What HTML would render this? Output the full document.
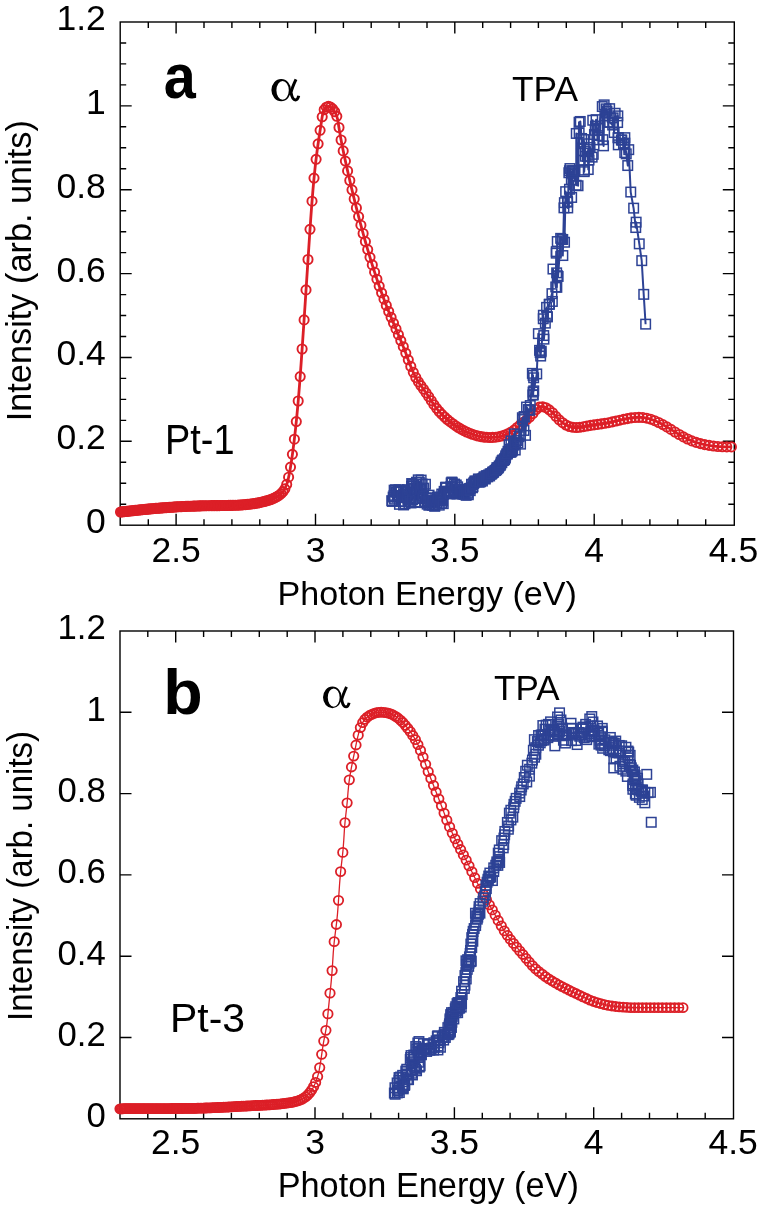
<!DOCTYPE html>
<html><head><meta charset="utf-8"><style>html,body{margin:0;padding:0;background:#fff;width:762px;height:1210px;overflow:hidden} svg{will-change:transform}</style></head>
<body><svg width="762" height="1210" viewBox="0 0 762 1210" style="display:block">
<rect width="762" height="1210" fill="#fff"/>
<rect x="120.2" y="22" width="614.1" height="503.2" fill="none" stroke="#000" stroke-width="1.4"/>
<path d="M148.3 525.2V519.2M148.3 22V28M176.1 525.2V513.7M176.1 22V33.5M204 525.2V519.2M204 22V28M231.9 525.2V519.2M231.9 22V28M259.8 525.2V519.2M259.8 22V28M287.6 525.2V519.2M287.6 22V28M315.5 525.2V513.7M315.5 22V33.5M343.4 525.2V519.2M343.4 22V28M371.2 525.2V519.2M371.2 22V28M399.1 525.2V519.2M399.1 22V28M427 525.2V519.2M427 22V28M454.8 525.2V513.7M454.8 22V33.5M482.7 525.2V519.2M482.7 22V28M510.6 525.2V519.2M510.6 22V28M538.4 525.2V519.2M538.4 22V28M566.3 525.2V519.2M566.3 22V28M594.2 525.2V513.7M594.2 22V33.5M622.1 525.2V519.2M622.1 22V28M649.9 525.2V519.2M649.9 22V28M677.8 525.2V519.2M677.8 22V28M705.7 525.2V519.2M705.7 22V28M120.2 504.2H126.2M734.3 504.2H728.3M120.2 483.3H126.2M734.3 483.3H728.3M120.2 462.3H126.2M734.3 462.3H728.3M120.2 441.3H131.7M734.3 441.3H722.8M120.2 420.4H126.2M734.3 420.4H728.3M120.2 399.4H126.2M734.3 399.4H728.3M120.2 378.4H126.2M734.3 378.4H728.3M120.2 357.5H131.7M734.3 357.5H722.8M120.2 336.5H126.2M734.3 336.5H728.3M120.2 315.5H126.2M734.3 315.5H728.3M120.2 294.6H126.2M734.3 294.6H728.3M120.2 273.6H131.7M734.3 273.6H722.8M120.2 252.6H126.2M734.3 252.6H728.3M120.2 231.7H126.2M734.3 231.7H728.3M120.2 210.7H126.2M734.3 210.7H728.3M120.2 189.7H131.7M734.3 189.7H722.8M120.2 168.8H126.2M734.3 168.8H728.3M120.2 147.8H126.2M734.3 147.8H728.3M120.2 126.8H126.2M734.3 126.8H728.3M120.2 105.9H131.7M734.3 105.9H722.8M120.2 84.9H126.2M734.3 84.9H728.3M120.2 63.9H126.2M734.3 63.9H728.3M120.2 43H126.2M734.3 43H728.3" stroke="#000" stroke-width="1.4" fill="none"/>
<g font-family="Liberation Sans, sans-serif" font-size="35.5" fill="#000"><text x="105.8" y="533.1" text-anchor="end" font-size="35.5">0</text><text x="105.8" y="449.2" text-anchor="end" font-size="35.5">0.2</text><text x="105.8" y="365.4" text-anchor="end" font-size="35.5">0.4</text><text x="105.8" y="281.5" text-anchor="end" font-size="35.5">0.6</text><text x="105.8" y="197.6" text-anchor="end" font-size="35.5">0.8</text><text x="105.8" y="113.8" text-anchor="end" font-size="35.5">1</text><text x="105.8" y="29.9" text-anchor="end" font-size="35.5">1.2</text><text x="176.1" y="562" text-anchor="middle">2.5</text><text x="315.5" y="562" text-anchor="middle">3</text><text x="454.8" y="562" text-anchor="middle">3.5</text><text x="594.2" y="562" text-anchor="middle">4</text><text x="733.5" y="562" text-anchor="middle">4.5</text></g>
<path d="M120.5 512 L121.2 511.9 L121.9 511.9 L122.6 511.8 L123.3 511.7 L124 511.6 L124.7 511.6 L125.4 511.5 L126.1 511.4 L126.8 511.3 L127.5 511.2 L128.2 511.2 L128.9 511.1 L129.6 511 L130.3 510.9 L131 510.9 L131.7 510.8 L132.4 510.7 L133.1 510.6 L133.8 510.6 L134.5 510.5 L135.2 510.4 L135.9 510.3 L136.6 510.3 L137.3 510.2 L138 510.1 L138.7 510.1 L139.4 510 L140.1 509.9 L140.8 509.8 L141.5 509.8 L142.2 509.7 L142.9 509.6 L143.6 509.6 L144.3 509.5 L145 509.4 L145.7 509.3 L146.4 509.3 L147.1 509.2 L147.8 509.1 L148.5 509.1 L149.2 509 L149.9 508.9 L150.6 508.9 L151.3 508.8 L152 508.7 L152.7 508.7 L153.4 508.6 L154.1 508.6 L154.8 508.5 L155.5 508.4 L156.2 508.4 L156.9 508.3 L157.6 508.3 L158.3 508.2 L159 508.1 L159.7 508.1 L160.4 508 L161.1 508 L161.8 507.9 L162.5 507.8 L163.2 507.8 L163.9 507.7 L164.6 507.7 L165.3 507.6 L166 507.6 L166.7 507.5 L167.4 507.5 L168.1 507.4 L168.8 507.4 L169.5 507.3 L170.2 507.3 L170.9 507.2 L171.6 507.2 L172.3 507.1 L173 507.1 L173.7 507 L174.4 507 L175.1 507 L175.8 506.9 L176.5 506.9 L177.2 506.8 L177.9 506.8 L178.6 506.8 L179.3 506.7 L180 506.7 L180.7 506.7 L181.4 506.6 L182.1 506.6 L182.8 506.5 L183.5 506.5 L184.2 506.5 L184.9 506.4 L185.6 506.4 L186.3 506.4 L187 506.4 L187.7 506.3 L188.4 506.3 L189.1 506.3 L189.8 506.2 L190.5 506.2 L191.2 506.2 L191.9 506.2 L192.6 506.1 L193.3 506.1 L194 506.1 L194.7 506.1 L195.4 506 L196.1 506 L196.8 506 L197.5 506 L198.2 505.9 L198.9 505.9 L199.6 505.9 L200.3 505.9 L201 505.9 L201.7 505.8 L202.4 505.8 L203.1 505.8 L203.8 505.8 L204.5 505.8 L205.2 505.8 L205.9 505.8 L206.6 505.7 L207.3 505.7 L208 505.7 L208.7 505.7 L209.4 505.7 L210.1 505.7 L210.8 505.7 L211.5 505.6 L212.2 505.6 L212.9 505.6 L213.6 505.6 L214.3 505.6 L215 505.6 L215.7 505.6 L216.4 505.6 L217.1 505.6 L217.8 505.6 L218.5 505.6 L219.2 505.6 L219.9 505.5 L220.6 505.5 L221.3 505.5 L222 505.5 L222.7 505.5 L223.4 505.5 L224.1 505.5 L224.8 505.5 L225.5 505.5 L226.2 505.5 L226.9 505.5 L227.6 505.5 L228.3 505.4 L229 505.4 L229.7 505.4 L230.4 505.4 L231.1 505.4 L231.8 505.4 L232.5 505.3 L233.2 505.3 L233.9 505.3 L234.6 505.3 L235.3 505.2 L236 505.2 L236.7 505.2 L237.4 505.2 L238.1 505.1 L238.8 505.1 L239.5 505 L240.2 505 L240.9 505 L241.6 504.9 L242.3 504.9 L243 504.8 L243.7 504.8 L244.4 504.7 L245.1 504.6 L245.8 504.6 L246.5 504.5 L247.2 504.4 L247.9 504.4 L248.6 504.3 L249.3 504.2 L250 504.1 L250.7 504 L251.4 504 L252.1 503.9 L252.8 503.8 L253.5 503.7 L254.2 503.5 L254.9 503.4 L255.6 503.3 L256.3 503.2 L257 503.1 L257.7 502.9 L258.4 502.8 L259.1 502.7 L259.8 502.5 L260.5 502.4 L261.2 502.2 L261.9 502.1 L262.6 501.9 L263.3 501.7 L264 501.6 L264.7 501.4 L265.4 501.2 L266.1 501 L266.8 500.8 L267.5 500.6 L268.2 500.4 L268.9 500.2 L269.6 499.9 L270.3 499.7 L271 499.4 L271.7 499.2 L272.4 498.9 L273.1 498.6 L273.8 498.3 L274.5 498 L275.2 497.6 L275.9 497.3 L276.6 496.9 L277.3 496.5 L278 496 L278.7 495.6 L279.4 495.1 L280.1 494.5 L280.8 493.9 L281.5 493.3 L282.2 492.5 L282.9 491.7 L283.6 490.8 L284.3 489.7 L285 488.5 L285.7 487 L286.4 485.3 L287.1 483.2 L287.8 480.7 L288.5 477.7 L289.2 474.4 L289.9 470.7 L290.6 466.6 L291.3 462.2 L292 457.4 L292.7 452.3 L293.4 446.9 L294.1 441.3 L294.8 435.3 L295.5 429.1 L296.2 422.4 L296.9 415.4 L297.6 407.9 L298.3 400 L299 391.6 L299.7 382.7 L300.4 373.3 L301.1 363.6 L301.8 353.6 L302.5 343.4 L303.2 333 L303.9 322.6 L304.6 312 L305.3 301.3 L306 290.6 L306.7 279.9 L307.4 269.1 L308.1 258.4 L308.8 247.7 L309.5 237.1 L310.2 226.6 L310.9 216.5 L311.6 206.8 L312.3 197.8 L313 189.4 L313.7 181.6 L314.4 174.4 L315.1 167.7 L315.8 161.5 L316.5 155.7 L317.2 150.3 L317.9 145.2 L318.6 140.3 L319.3 135.7 L320 131.1 L320.7 126.6 L321.4 122 L322.1 117.3 L322.8 113.4 L323.5 111.2 L324.2 109.7 L324.9 108.6 L325.6 107.8 L326.3 107.2 L327 106.7 L327.7 106.5 L328.4 106.4 L329.1 106.5 L329.8 106.7 L330.5 107.1 L331.2 107.6 L331.9 108.2 L332.6 108.9 L333.3 109.7 L334 110.6 L334.7 111.7 L335.4 112.9 L336.1 114.4 L336.8 116.3 L337.5 118.8 L338.2 122.5 L338.9 127.2 L339.6 131.6 L340.3 135.7 L341 139.5 L341.7 143.2 L342.4 146.8 L343.1 150.2 L343.8 153.6 L344.5 156.8 L345.2 160.1 L345.9 163.3 L346.6 166.4 L347.3 169.6 L348 172.7 L348.7 175.8 L349.4 178.8 L350.1 181.9 L350.8 184.9 L351.5 187.8 L352.2 190.8 L352.9 193.7 L353.6 196.6 L354.3 199.4 L355 202.3 L355.7 205.1 L356.4 207.9 L357.1 210.7 L357.8 213.4 L358.5 216.1 L359.2 218.8 L359.9 221.5 L360.6 224.1 L361.3 226.7 L362 229.3 L362.7 231.9 L363.4 234.5 L364.1 237 L364.8 239.5 L365.5 242 L366.2 244.5 L366.9 246.9 L367.6 249.3 L368.3 251.7 L369 254.1 L369.7 256.4 L370.4 258.8 L371.1 261.1 L371.8 263.3 L372.5 265.6 L373.2 267.8 L373.9 270 L374.6 272.2 L375.3 274.4 L376 276.5 L376.7 278.6 L377.4 280.7 L378.1 282.8 L378.8 284.8 L379.5 286.8 L380.2 288.8 L380.9 290.8 L381.6 292.8 L382.3 294.7 L383 296.6 L383.7 298.5 L384.4 300.4 L385.1 302.2 L385.8 304.1 L386.5 305.9 L387.2 307.7 L387.9 309.4 L388.6 311.2 L389.3 312.9 L390 314.6 L390.7 316.3 L391.4 318 L392.1 319.7 L392.8 321.4 L393.5 323.1 L394.2 324.7 L394.9 326.4 L395.6 328.1 L396.3 329.7 L397 331.4 L397.7 333.1 L398.4 334.7 L399.1 336.4 L399.8 338.1 L400.5 339.8 L401.2 341.5 L401.9 343.2 L402.6 345 L403.3 346.7 L404 348.5 L404.7 350.3 L405.4 352.1 L406.1 354 L406.8 355.9 L407.5 357.8 L408.2 359.7 L408.9 361.5 L409.6 363.4 L410.3 365.2 L411 367 L411.7 368.7 L412.4 370.3 L413.1 371.9 L413.8 373.4 L414.5 374.9 L415.2 376.3 L415.9 377.6 L416.6 378.9 L417.3 380.1 L418 381.2 L418.7 382.3 L419.4 383.4 L420.1 384.5 L420.8 385.5 L421.5 386.5 L422.2 387.4 L422.9 388.4 L423.6 389.4 L424.3 390.4 L425 391.3 L425.7 392.3 L426.4 393.3 L427.1 394.3 L427.8 395.4 L428.5 396.4 L429.2 397.5 L429.9 398.6 L430.6 399.7 L431.3 400.7 L432 401.8 L432.7 402.9 L433.4 403.9 L434.1 404.9 L434.8 405.9 L435.5 406.9 L436.2 407.8 L436.9 408.7 L437.6 409.6 L438.3 410.4 L439 411.3 L439.7 412.1 L440.4 412.8 L441.1 413.6 L441.8 414.3 L442.5 415 L443.2 415.7 L443.9 416.4 L444.6 417.1 L445.3 417.7 L446 418.3 L446.7 418.9 L447.4 419.5 L448.1 420.1 L448.8 420.7 L449.5 421.3 L450.2 421.8 L450.9 422.4 L451.6 422.9 L452.3 423.4 L453 423.9 L453.7 424.4 L454.4 424.9 L455.1 425.4 L455.8 425.9 L456.5 426.3 L457.2 426.8 L457.9 427.2 L458.6 427.7 L459.3 428.1 L460 428.5 L460.7 428.9 L461.4 429.3 L462.1 429.7 L462.8 430.1 L463.5 430.5 L464.2 430.8 L464.9 431.2 L465.6 431.5 L466.3 431.9 L467 432.2 L467.7 432.5 L468.4 432.8 L469.1 433.1 L469.8 433.4 L470.5 433.6 L471.2 433.9 L471.9 434.2 L472.6 434.4 L473.3 434.6 L474 434.9 L474.7 435.1 L475.4 435.3 L476.1 435.5 L476.8 435.7 L477.5 435.9 L478.2 436 L478.9 436.2 L479.6 436.3 L480.3 436.5 L481 436.6 L481.7 436.7 L482.4 436.8 L483.1 437 L483.8 437 L484.5 437.1 L485.2 437.2 L485.9 437.3 L486.6 437.3 L487.3 437.4 L488 437.4 L488.7 437.4 L489.4 437.5 L490.1 437.5 L490.8 437.5 L491.5 437.5 L492.2 437.4 L492.9 437.4 L493.6 437.4 L494.3 437.3 L495 437.2 L495.7 437.2 L496.4 437.1 L497.1 437 L497.8 436.9 L498.5 436.7 L499.2 436.6 L499.9 436.5 L500.6 436.3 L501.3 436.1 L502 435.9 L502.7 435.7 L503.4 435.5 L504.1 435.3 L504.8 435 L505.5 434.8 L506.2 434.5 L506.9 434.2 L507.6 433.9 L508.3 433.6 L509 433.2 L509.7 432.8 L510.4 432.4 L511.1 432 L511.8 431.6 L512.5 431.1 L513.2 430.6 L513.9 430.1 L514.6 429.6 L515.3 429 L516 428.4 L516.7 427.8 L517.4 427.2 L518.1 426.6 L518.8 426 L519.5 425.4 L520.2 424.8 L520.9 424.2 L521.6 423.6 L522.3 423 L523 422.4 L523.7 421.9 L524.4 421.4 L525.1 420.8 L525.8 420.3 L526.5 419.7 L527.2 419.2 L527.9 418.6 L528.6 418 L529.3 417.4 L530 416.8 L530.7 416.1 L531.4 415.4 L532.1 414.6 L532.8 413.7 L533.5 412.8 L534.2 411.9 L534.9 411 L535.6 410.1 L536.3 409.3 L537 408.6 L537.7 408 L538.4 407.5 L539.1 407.2 L539.8 406.9 L540.5 406.7 L541.2 406.7 L541.9 406.7 L542.6 406.7 L543.3 406.8 L544 407 L544.7 407.2 L545.4 407.5 L546.1 407.8 L546.8 408.2 L547.5 408.6 L548.2 409 L548.9 409.5 L549.6 410.1 L550.3 410.7 L551 411.3 L551.7 411.9 L552.4 412.6 L553.1 413.3 L553.8 414.1 L554.5 414.8 L555.2 415.6 L555.9 416.3 L556.6 417.1 L557.3 417.8 L558 418.5 L558.7 419.3 L559.4 419.9 L560.1 420.6 L560.8 421.2 L561.5 421.8 L562.2 422.4 L562.9 422.9 L563.6 423.5 L564.3 423.9 L565 424.4 L565.7 424.8 L566.4 425.2 L567.1 425.5 L567.8 425.8 L568.5 426.1 L569.2 426.4 L569.9 426.6 L570.6 426.8 L571.3 427 L572 427.2 L572.7 427.3 L573.4 427.4 L574.1 427.5 L574.8 427.5 L575.5 427.5 L576.2 427.6 L576.9 427.5 L577.6 427.5 L578.3 427.4 L579 427.4 L579.7 427.3 L580.4 427.2 L581.1 427.1 L581.8 427 L582.5 426.9 L583.2 426.7 L583.9 426.6 L584.6 426.5 L585.3 426.3 L586 426.2 L586.7 426.1 L587.4 425.9 L588.1 425.8 L588.8 425.7 L589.5 425.6 L590.2 425.5 L590.9 425.4 L591.6 425.3 L592.3 425.1 L593 425 L593.7 424.9 L594.4 424.9 L595.1 424.8 L595.8 424.7 L596.5 424.6 L597.2 424.5 L597.9 424.4 L598.6 424.3 L599.3 424.2 L600 424.1 L600.7 424 L601.4 423.9 L602.1 423.8 L602.8 423.7 L603.5 423.6 L604.2 423.5 L604.9 423.3 L605.6 423.2 L606.3 423.1 L607 423 L607.7 422.8 L608.4 422.7 L609.1 422.6 L609.8 422.4 L610.5 422.3 L611.2 422.1 L611.9 422 L612.6 421.8 L613.3 421.7 L614 421.5 L614.7 421.3 L615.4 421.2 L616.1 421 L616.8 420.9 L617.5 420.7 L618.2 420.5 L618.9 420.4 L619.6 420.2 L620.3 420 L621 419.9 L621.7 419.7 L622.4 419.6 L623.1 419.4 L623.8 419.3 L624.5 419.1 L625.2 419 L625.9 418.8 L626.6 418.7 L627.3 418.6 L628 418.4 L628.7 418.3 L629.4 418.2 L630.1 418.1 L630.8 418 L631.5 417.9 L632.2 417.8 L632.9 417.7 L633.6 417.6 L634.3 417.6 L635 417.5 L635.7 417.5 L636.4 417.4 L637.1 417.4 L637.8 417.4 L638.5 417.4 L639.2 417.4 L639.9 417.4 L640.6 417.4 L641.3 417.4 L642 417.5 L642.7 417.5 L643.4 417.6 L644.1 417.7 L644.8 417.8 L645.5 417.9 L646.2 418 L646.9 418.2 L647.6 418.3 L648.3 418.5 L649 418.7 L649.7 418.9 L650.4 419.1 L651.1 419.3 L651.8 419.6 L652.5 419.8 L653.2 420.1 L653.9 420.3 L654.6 420.6 L655.3 420.9 L656 421.2 L656.7 421.5 L657.4 421.8 L658.1 422.2 L658.8 422.5 L659.5 422.9 L660.2 423.2 L660.9 423.6 L661.6 423.9 L662.3 424.3 L663 424.7 L663.7 425.1 L664.4 425.5 L665.1 425.9 L665.8 426.3 L666.5 426.7 L667.2 427.1 L667.9 427.6 L668.6 428 L669.3 428.4 L670 428.8 L670.7 429.3 L671.4 429.7 L672.1 430.1 L672.8 430.6 L673.5 431 L674.2 431.5 L674.9 431.9 L675.6 432.3 L676.3 432.7 L677 433.2 L677.7 433.6 L678.4 434 L679.1 434.4 L679.8 434.9 L680.5 435.3 L681.2 435.7 L681.9 436.1 L682.6 436.5 L683.3 436.8 L684 437.2 L684.7 437.6 L685.4 437.9 L686.1 438.3 L686.8 438.6 L687.5 439 L688.2 439.3 L688.9 439.6 L689.6 439.9 L690.3 440.2 L691 440.5 L691.7 440.8 L692.4 441.1 L693.1 441.3 L693.8 441.6 L694.5 441.8 L695.2 442.1 L695.9 442.3 L696.6 442.5 L697.3 442.8 L698 443 L698.7 443.2 L699.4 443.4 L700.1 443.6 L700.8 443.7 L701.5 443.9 L702.2 444.1 L702.9 444.2 L703.6 444.4 L704.3 444.5 L705 444.7 L705.7 444.8 L706.4 445 L707.1 445.1 L707.8 445.2 L708.5 445.3 L709.2 445.5 L709.9 445.6 L710.6 445.7 L711.3 445.8 L712 445.9 L712.7 445.9 L713.4 446 L714.1 446.1 L714.8 446.2 L715.5 446.3 L716.2 446.3 L716.9 446.4 L717.6 446.5 L718.3 446.5 L719 446.6 L719.7 446.6 L720.4 446.7 L721.1 446.7 L721.8 446.7 L722.5 446.8 L723.2 446.8 L723.9 446.8 L724.6 446.9 L725.3 446.9 L726 446.9 L726.7 446.9 L727.4 446.9 L728.1 446.9 L728.8 446.9 L729.5 446.9 L730.2 446.9 L730.9 446.9 L731.6 446.9" fill="none" stroke="#dc1f27" stroke-width="2.8" stroke-linejoin="round"/>
<g fill="none" stroke="#dc1f27" stroke-width="1.9"><circle cx="120.5" cy="512" r="4.6"/><circle cx="121.7" cy="511.9" r="4.6"/><circle cx="122.9" cy="511.8" r="4.6"/><circle cx="124.1" cy="511.6" r="4.6"/><circle cx="125.3" cy="511.5" r="4.6"/><circle cx="126.5" cy="511.4" r="4.6"/><circle cx="127.7" cy="511.2" r="4.6"/><circle cx="128.9" cy="511.1" r="4.6"/><circle cx="130.1" cy="511" r="4.6"/><circle cx="131.4" cy="510.8" r="4.6"/><circle cx="132.6" cy="510.7" r="4.6"/><circle cx="133.8" cy="510.6" r="4.6"/><circle cx="135.1" cy="510.4" r="4.6"/><circle cx="136.3" cy="510.3" r="4.6"/><circle cx="137.6" cy="510.2" r="4.6"/><circle cx="138.8" cy="510" r="4.6"/><circle cx="140.1" cy="509.9" r="4.6"/><circle cx="141.4" cy="509.8" r="4.6"/><circle cx="142.6" cy="509.7" r="4.6"/><circle cx="143.9" cy="509.5" r="4.6"/><circle cx="145.2" cy="509.4" r="4.6"/><circle cx="146.5" cy="509.3" r="4.6"/><circle cx="147.8" cy="509.1" r="4.6"/><circle cx="149" cy="509" r="4.6"/><circle cx="150.3" cy="508.9" r="4.6"/><circle cx="151.7" cy="508.8" r="4.6"/><circle cx="153" cy="508.7" r="4.6"/><circle cx="154.3" cy="508.5" r="4.6"/><circle cx="155.6" cy="508.4" r="4.6"/><circle cx="156.9" cy="508.3" r="4.6"/><circle cx="158.3" cy="508.2" r="4.6"/><circle cx="159.6" cy="508.1" r="4.6"/><circle cx="160.9" cy="508" r="4.6"/><circle cx="162.3" cy="507.9" r="4.6"/><circle cx="163.6" cy="507.8" r="4.6"/><circle cx="165" cy="507.7" r="4.6"/><circle cx="166.4" cy="507.6" r="4.6"/><circle cx="167.7" cy="507.5" r="4.6"/><circle cx="169.1" cy="507.4" r="4.6"/><circle cx="170.5" cy="507.3" r="4.6"/><circle cx="171.9" cy="507.2" r="4.6"/><circle cx="173.3" cy="507.1" r="4.6"/><circle cx="174.6" cy="507" r="4.6"/><circle cx="176.1" cy="506.9" r="4.6"/><circle cx="177.5" cy="506.8" r="4.6"/><circle cx="178.9" cy="506.7" r="4.6"/><circle cx="180.3" cy="506.7" r="4.6"/><circle cx="181.7" cy="506.6" r="4.6"/><circle cx="183.1" cy="506.5" r="4.6"/><circle cx="184.6" cy="506.5" r="4.6"/><circle cx="186" cy="506.4" r="4.6"/><circle cx="187.5" cy="506.3" r="4.6"/><circle cx="188.9" cy="506.3" r="4.6"/><circle cx="190.4" cy="506.2" r="4.6"/><circle cx="191.9" cy="506.2" r="4.6"/><circle cx="193.3" cy="506.1" r="4.6"/><circle cx="194.8" cy="506.1" r="4.6"/><circle cx="196.3" cy="506" r="4.6"/><circle cx="197.8" cy="506" r="4.6"/><circle cx="199.3" cy="505.9" r="4.6"/><circle cx="200.8" cy="505.9" r="4.6"/><circle cx="202.3" cy="505.8" r="4.6"/><circle cx="203.8" cy="505.8" r="4.6"/><circle cx="205.3" cy="505.8" r="4.6"/><circle cx="206.8" cy="505.7" r="4.6"/><circle cx="208.4" cy="505.7" r="4.6"/><circle cx="209.9" cy="505.7" r="4.6"/><circle cx="211.5" cy="505.6" r="4.6"/><circle cx="213" cy="505.6" r="4.6"/><circle cx="214.6" cy="505.6" r="4.6"/><circle cx="216.2" cy="505.6" r="4.6"/><circle cx="217.7" cy="505.6" r="4.6"/><circle cx="219.3" cy="505.6" r="4.6"/><circle cx="220.9" cy="505.5" r="4.6"/><circle cx="222.5" cy="505.5" r="4.6"/><circle cx="224.1" cy="505.5" r="4.6"/><circle cx="225.7" cy="505.5" r="4.6"/><circle cx="227.3" cy="505.5" r="4.6"/><circle cx="228.9" cy="505.4" r="4.6"/><circle cx="230.6" cy="505.4" r="4.6"/><circle cx="232.2" cy="505.4" r="4.6"/><circle cx="233.9" cy="505.3" r="4.6"/><circle cx="235.5" cy="505.2" r="4.6"/><circle cx="237.2" cy="505.2" r="4.6"/><circle cx="238.8" cy="505.1" r="4.6"/><circle cx="240.5" cy="505" r="4.6"/><circle cx="242.2" cy="504.9" r="4.6"/><circle cx="243.9" cy="504.7" r="4.6"/><circle cx="245.6" cy="504.6" r="4.6"/><circle cx="247.3" cy="504.4" r="4.6"/><circle cx="249" cy="504.3" r="4.6"/><circle cx="250.7" cy="504" r="4.6"/><circle cx="252.4" cy="503.8" r="4.6"/><circle cx="254.2" cy="503.6" r="4.6"/><circle cx="255.9" cy="503.3" r="4.6"/><circle cx="257.6" cy="503" r="4.6"/><circle cx="259.4" cy="502.6" r="4.6"/><circle cx="261.2" cy="502.2" r="4.6"/><circle cx="262.9" cy="501.8" r="4.6"/><circle cx="264.7" cy="501.4" r="4.6"/><circle cx="266.5" cy="500.9" r="4.6"/><circle cx="268.3" cy="500.4" r="4.6"/><circle cx="270.1" cy="499.8" r="4.6"/><circle cx="271.9" cy="499.1" r="4.6"/><circle cx="273.7" cy="498.3" r="4.6"/><circle cx="275.6" cy="497.4" r="4.6"/><circle cx="277.4" cy="496.4" r="4.6"/><circle cx="279.3" cy="495.2" r="4.6"/><circle cx="281.1" cy="493.6" r="4.6"/><circle cx="283" cy="491.6" r="4.6"/><circle cx="284.9" cy="488.8" r="4.6"/><circle cx="286.7" cy="484.4" r="4.6"/><circle cx="288.6" cy="477.2" r="4.6"/><circle cx="290.5" cy="467.1" r="4.6"/><circle cx="292.4" cy="454.3" r="4.6"/><circle cx="294.4" cy="439.2" r="4.6"/><circle cx="296.3" cy="421.6" r="4.6"/><circle cx="298.2" cy="401" r="4.6"/><circle cx="300.2" cy="376.6" r="4.6"/><circle cx="302.1" cy="349" r="4.6"/><circle cx="304.1" cy="319.9" r="4.6"/><circle cx="306" cy="289.9" r="4.6"/><circle cx="308" cy="259.5" r="4.6"/><circle cx="310" cy="229.3" r="4.6"/><circle cx="312" cy="201.2" r="4.6"/><circle cx="314" cy="178.1" r="4.6"/><circle cx="316.1" cy="159.3" r="4.6"/><circle cx="318.1" cy="143.8" r="4.6"/><circle cx="320.1" cy="130.3" r="4.6"/><circle cx="322.2" cy="116.8" r="4.6"/><circle cx="324.2" cy="109.7" r="4.6"/><circle cx="326.3" cy="107.2" r="4.6"/><circle cx="328.4" cy="106.4" r="4.6"/><circle cx="330.5" cy="107.1" r="4.6"/><circle cx="332.6" cy="108.8" r="4.6"/><circle cx="334.7" cy="111.7" r="4.6"/><circle cx="336.8" cy="116.3" r="4.6"/><circle cx="339" cy="127.5" r="4.6"/><circle cx="341.1" cy="140" r="4.6"/><circle cx="343.2" cy="150.9" r="4.6"/><circle cx="345.4" cy="161.1" r="4.6"/><circle cx="347.6" cy="170.9" r="4.6"/><circle cx="349.8" cy="180.5" r="4.6"/><circle cx="352" cy="189.8" r="4.6"/><circle cx="354.2" cy="199" r="4.6"/><circle cx="356.4" cy="207.9" r="4.6"/><circle cx="358.6" cy="216.6" r="4.6"/><circle cx="360.9" cy="225.2" r="4.6"/><circle cx="363.1" cy="233.5" r="4.6"/><circle cx="365.4" cy="241.6" r="4.6"/><circle cx="367.7" cy="249.6" r="4.6"/><circle cx="370" cy="257.3" r="4.6"/><circle cx="372.3" cy="264.9" r="4.6"/><circle cx="374.6" cy="272.2" r="4.6"/><circle cx="376.9" cy="279.2" r="4.6"/><circle cx="379.2" cy="286.1" r="4.6"/><circle cx="381.6" cy="292.8" r="4.6"/><circle cx="384" cy="299.2" r="4.6"/><circle cx="386.3" cy="305.4" r="4.6"/><circle cx="388.7" cy="311.5" r="4.6"/><circle cx="391.1" cy="317.3" r="4.6"/><circle cx="393.5" cy="323.1" r="4.6"/><circle cx="396" cy="328.9" r="4.6"/><circle cx="398.4" cy="334.7" r="4.6"/><circle cx="400.8" cy="340.6" r="4.6"/><circle cx="403.3" cy="346.7" r="4.6"/><circle cx="405.8" cy="353.1" r="4.6"/><circle cx="408.3" cy="359.8" r="4.6"/><circle cx="410.8" cy="366.4" r="4.6"/><circle cx="413.3" cy="372.3" r="4.6"/><circle cx="415.8" cy="377.5" r="4.6"/><circle cx="418.4" cy="381.8" r="4.6"/><circle cx="420.9" cy="385.6" r="4.6"/><circle cx="423.5" cy="389.2" r="4.6"/><circle cx="426.1" cy="392.9" r="4.6"/><circle cx="428.7" cy="396.7" r="4.6"/><circle cx="431.3" cy="400.7" r="4.6"/><circle cx="433.9" cy="404.7" r="4.6"/><circle cx="436.6" cy="408.3" r="4.6"/><circle cx="439.2" cy="411.5" r="4.6"/><circle cx="441.9" cy="414.4" r="4.6"/><circle cx="444.6" cy="417" r="4.6"/><circle cx="447.3" cy="419.5" r="4.6"/><circle cx="450" cy="421.7" r="4.6"/><circle cx="452.8" cy="423.7" r="4.6"/><circle cx="455.5" cy="425.7" r="4.6"/><circle cx="458.3" cy="427.5" r="4.6"/><circle cx="461" cy="429.1" r="4.6"/><circle cx="463.8" cy="430.6" r="4.6"/><circle cx="466.7" cy="432" r="4.6"/><circle cx="469.5" cy="433.2" r="4.6"/><circle cx="472.3" cy="434.3" r="4.6"/><circle cx="475.2" cy="435.2" r="4.6"/><circle cx="478.1" cy="436" r="4.6"/><circle cx="481" cy="436.6" r="4.6"/><circle cx="483.9" cy="437.1" r="4.6"/><circle cx="486.8" cy="437.3" r="4.6"/><circle cx="489.8" cy="437.5" r="4.6"/><circle cx="492.7" cy="437.4" r="4.6"/><circle cx="495.7" cy="437.2" r="4.6"/><circle cx="498.7" cy="436.7" r="4.6"/><circle cx="501.7" cy="436" r="4.6"/><circle cx="504.7" cy="435.1" r="4.6"/><circle cx="507.8" cy="433.8" r="4.6"/><circle cx="510.9" cy="432.2" r="4.6"/><circle cx="514" cy="430.1" r="4.6"/><circle cx="517.1" cy="427.5" r="4.6"/><circle cx="520.2" cy="424.8" r="4.6"/><circle cx="523.3" cy="422.2" r="4.6"/><circle cx="526.5" cy="419.8" r="4.6"/><circle cx="529.7" cy="417.1" r="4.6"/><circle cx="532.9" cy="413.6" r="4.6"/><circle cx="536.1" cy="409.5" r="4.6"/><circle cx="539.3" cy="407.1" r="4.6"/><circle cx="542.6" cy="406.7" r="4.6"/><circle cx="545.9" cy="407.7" r="4.6"/><circle cx="549.2" cy="409.8" r="4.6"/><circle cx="552.5" cy="412.7" r="4.6"/><circle cx="555.8" cy="416.3" r="4.6"/><circle cx="559.2" cy="419.8" r="4.6"/><circle cx="562.6" cy="422.7" r="4.6"/><circle cx="566" cy="425" r="4.6"/><circle cx="569.4" cy="426.5" r="4.6"/><circle cx="572.9" cy="427.3" r="4.6"/><circle cx="576.4" cy="427.5" r="4.6"/><circle cx="579.8" cy="427.3" r="4.6"/><circle cx="583.4" cy="426.7" r="4.6"/><circle cx="586.9" cy="426" r="4.6"/><circle cx="590.5" cy="425.4" r="4.6"/><circle cx="594" cy="424.9" r="4.6"/><circle cx="597.7" cy="424.4" r="4.6"/><circle cx="601.3" cy="423.9" r="4.6"/><circle cx="604.9" cy="423.3" r="4.6"/><circle cx="608.6" cy="422.7" r="4.6"/><circle cx="612.3" cy="421.9" r="4.6"/><circle cx="616" cy="421" r="4.6"/><circle cx="619.8" cy="420.2" r="4.6"/><circle cx="623.6" cy="419.3" r="4.6"/><circle cx="627.4" cy="418.6" r="4.6"/><circle cx="631.2" cy="417.9" r="4.6"/><circle cx="635.1" cy="417.5" r="4.6"/><circle cx="638.9" cy="417.4" r="4.6"/><circle cx="642.8" cy="417.5" r="4.6"/><circle cx="646.8" cy="418.2" r="4.6"/><circle cx="650.7" cy="419.2" r="4.6"/><circle cx="654.7" cy="420.7" r="4.6"/><circle cx="658.7" cy="422.5" r="4.6"/><circle cx="662.8" cy="424.6" r="4.6"/><circle cx="666.8" cy="426.9" r="4.6"/><circle cx="670.9" cy="429.4" r="4.6"/><circle cx="675" cy="432" r="4.6"/><circle cx="679.2" cy="434.5" r="4.6"/><circle cx="683.4" cy="436.9" r="4.6"/><circle cx="687.6" cy="439" r="4.6"/><circle cx="691.8" cy="440.9" r="4.6"/><circle cx="696.1" cy="442.4" r="4.6"/><circle cx="700.4" cy="443.6" r="4.6"/><circle cx="704.7" cy="444.6" r="4.6"/><circle cx="709.1" cy="445.4" r="4.6"/><circle cx="713.5" cy="446" r="4.6"/><circle cx="717.9" cy="446.5" r="4.6"/><circle cx="722.4" cy="446.8" r="4.6"/><circle cx="726.8" cy="446.9" r="4.6"/><circle cx="731.4" cy="446.9" r="4.6"/></g>
<path d="M391.7 500.7 L392.3 501.4 L393.2 497.1 L394.1 495.5 L394.2 490.2 L394.6 499.1 L395.5 489.8 L396.6 491.7 L396.7 492.2 L397.5 497 L398.1 491.8 L398.4 491.6 L399 489.7 L399.5 504.3 L400.5 490.9 L400.9 490.6 L401.7 497.7 L401.8 501.3 L402.3 496.5 L403.5 504.9 L403.8 501.6 L404.7 495.6 L405 503.7 L406.3 494.5 L406.7 497.1 L407.1 489.7 L407.3 496.2 L407.8 492.6 L409.3 498.8 L409.7 497.9 L410.1 501.4 L411 503 L411.5 486.3 L411.7 483.6 L412.4 499.7 L412.6 484.3 L413.5 485.6 L414.5 488.3 L414.9 491.7 L415.5 502.5 L416.4 482.3 L416.8 488.6 L416.9 487.8 L417.8 502 L418.3 479.9 L419.4 482.1 L419.6 498.6 L420.2 489.6 L421.1 480.1 L421.5 489 L422.2 484 L422.5 498.1 L423.2 496.2 L423.6 488.2 L424.8 502.6 L424.9 501.5 L425.4 484.2 L426.2 498 L427.2 504.2 L427.7 501.4 L428.2 501.1 L428.9 505.2 L429.1 495.2 L429.5 497.9 L430.3 504.6 L430.6 502.1 L431.8 502.1 L431.9 501.6 L432.4 505.3 L433.1 500.8 L434.3 505.1 L434.7 505.9 L434.8 506.3 L435.9 499.9 L436.7 503.1 L437.5 497 L437.7 500.6 L438.3 500.9 L438.4 497.5 L439.3 505.2 L440 498.6 L440.7 499.8 L441.7 503.2 L441.8 494.1 L442.5 501 L443.3 503.7 L443.3 494.2 L444.1 491.3 L444.7 492.7 L445.4 487.9 L445.6 487.2 L446.2 487.4 L447.4 492.1 L448.3 491.3 L448.4 492.4 L449.2 491.8 L449.7 491.5 L450.1 493.9 L450.9 486.6 L451.1 483 L451.8 482.1 L452.3 482.8 L453 486.8 L453.9 492.5 L454.5 484 L455.4 491.5 L455.6 490.1 L456.2 484.9 L456.9 494 L457.6 493.1 L457.7 486.8 L459 491.8 L459.5 489.3 L460.1 491.2 L460.1 490.4 L460.5 492.7 L461.3 492.6 L462.3 493 L462.9 494.1 L463.3 492.1 L463.8 493.6 L464.4 494.2 L464.8 490.9 L465.7 490.1 L466.1 495.3 L466.9 490.8 L467.9 493.3 L468.3 494.7 L468.9 489.8 L469 488.6 L470.2 490.7 L470.3 488.2 L471.6 484.4 L471.6 484.2 L472.5 487.8 L473.1 486.6 L473.8 483.5 L474 482.4 L475 481.1 L475.1 481.1 L476.2 481.8 L476.3 481.3 L476.8 481.6 L478.1 481.4 L478.3 479.1 L478.8 479.2 L479.1 482.3 L480.4 481.7 L480.4 479.7 L481.8 479.6 L482.1 479 L482.4 481 L483.3 478.4 L483.7 478 L484.1 476.7 L485.1 478.3 L485.2 479.1 L486.2 475.7 L486.4 476.6 L487 475.7 L487.8 476.9 L488.6 474.9 L489.6 475.9 L490 473.9 L490.8 474.1 L491.3 474.1 L491.8 473.7 L492.5 472.9 L492.8 472.1 L493.3 472.4 L493.7 471.8 L494.9 470.6 L495.5 470.5 L496.3 469.5 L496.7 469.7 L496.9 467.8 L497.5 468.2 L498 468.2 L498.6 467.3 L499.2 465.9 L500.4 465.2 L500.7 464 L501.2 462.1 L501.8 462.6 L502.2 460.7 L502.8 460 L503.5 460.5 L504.6 459.7 L504.7 458.6 L505.5 457.8 L505.6 455.9 L506.7 454 L507.5 453.9 L508.1 451.2 L508.3 451.5 L508.5 452.1 L509.1 444.7 L509.7 449.4 L510.3 452.3 L511 441 L511.1 449.6 L511.1 451.9 L511.9 451.1 L512.1 450.6 L512.2 449.3 L512.6 448.8 L513.6 443 L513.6 443.9 L513.7 442.8 L513.9 445.1 L514.3 433.8 L515.2 450.1 L515.4 444.1 L517.2 440.5 L518 442.7 L519.1 436.6 L520.5 434.8 L520.6 444.1 L522.4 417.8 L522.6 419.6 L524 430.5 L524.1 416.5 L524.4 417.1 L525.5 435.4 L526.6 407.1 L528.4 409.6 L529.9 410.4 L530.3 405.6 L532.3 373.4 L532.9 395 L533 375.3 L533.1 392 L533.2 394.7 L533.6 377.7 L533.8 390.9 L536.8 373.9 L538.3 333.7 L539.5 350.3 L540.1 352.6 L540.6 356.1 L540.8 352.7 L541.3 351.2 L543.3 318.8 L543.3 315.2 L543.8 335.6 L543.9 339.1 L545.4 323.2 L546.6 307.4 L547.2 316.6 L547.5 316.8 L549.1 304.3 L549.5 304.2 L551.9 293.6 L552.4 301.5 L553 269.1 L555.8 287 L556.2 253.2 L556.2 251.6 L556.7 272.9 L556.9 287.3 L557.2 241.6 L557.4 275.7 L558.1 276.4 L560.7 238.4 L561.8 239.6 L562.7 239.4 L562.8 255.6 L564 207.8 L564.3 202.7 L564.5 242.2 L565.6 191.6 L567.4 201.5 L567.6 202.2 L567.8 208 L568.8 172.7 L569.4 170.8 L569.4 189.2 L570 168.5 L571.3 179.9 L571.5 172.7 L571.7 197.4 L572.1 170.9 L572.8 174.1 L573.2 170.6 L576.2 185.2 L576.3 133.5 L578.1 185.7 L579 122.2 L579.1 133 L580.3 121.4 L581.6 138.4 L583.3 160.2 L583.8 139.5 L584.2 143.7 L584.2 171.7 L584.3 170.2 L585.3 156.3 L585.4 151.5 L587.3 156.4 L588.2 149.6 L588.3 169.6 L589.1 160.1 L590 147.6 L592.1 157.1 L592.7 120.2 L593.2 154.3 L594.4 134.6 L595.2 130.3 L595.5 126 L596.1 119.7 L597.6 139.9 L597.6 135.6 L598.7 128 L602.3 106.6 L602.8 139.6 L603.6 145.9 L604.1 104.9 L604.8 116 L606.1 108.9 L606.9 111.3 L607.7 122.3 L609.6 108.7 L609.7 122.2 L612.6 125.1 L613.2 117.9 L613.4 122.8 L614.1 132.5 L615.2 113.3 L617.6 122.6 L617.9 115.9 L618.1 137.7 L618.3 144.8 L618.3 137.6 L621.4 140 L621.9 140 L623.5 144 L624.7 152.7 L624.8 137.6 L624.8 143.2 L626.3 153.8 L627.8 165.6 L628.7 149.6 L630.7 192.1 L633.6 208.2 L635.7 227.6 L636.1 222.2 L639.3 243.8 L641.7 260.7 L643.7 294.4 L645.6 324.2" fill="none" stroke="#2d4295" stroke-width="2" stroke-linejoin="round"/>
<g fill="none" stroke="#2d4295" stroke-width="1.5"><rect x="387" y="495.9" width="9.5" height="9.5"/><rect x="387.6" y="496.7" width="9.5" height="9.5"/><rect x="388.4" y="492.3" width="9.5" height="9.5"/><rect x="389.3" y="490.7" width="9.5" height="9.5"/><rect x="389.4" y="485.4" width="9.5" height="9.5"/><rect x="389.8" y="494.4" width="9.5" height="9.5"/><rect x="390.8" y="485" width="9.5" height="9.5"/><rect x="391.8" y="487" width="9.5" height="9.5"/><rect x="392" y="487.4" width="9.5" height="9.5"/><rect x="392.8" y="492.3" width="9.5" height="9.5"/><rect x="393.3" y="487" width="9.5" height="9.5"/><rect x="393.6" y="486.9" width="9.5" height="9.5"/><rect x="394.3" y="485" width="9.5" height="9.5"/><rect x="394.7" y="499.6" width="9.5" height="9.5"/><rect x="395.8" y="486.2" width="9.5" height="9.5"/><rect x="396.1" y="485.8" width="9.5" height="9.5"/><rect x="397" y="492.9" width="9.5" height="9.5"/><rect x="397" y="496.6" width="9.5" height="9.5"/><rect x="397.6" y="491.8" width="9.5" height="9.5"/><rect x="398.8" y="500.2" width="9.5" height="9.5"/><rect x="399" y="496.8" width="9.5" height="9.5"/><rect x="400" y="490.9" width="9.5" height="9.5"/><rect x="400.2" y="499" width="9.5" height="9.5"/><rect x="401.5" y="489.7" width="9.5" height="9.5"/><rect x="402" y="492.4" width="9.5" height="9.5"/><rect x="402.4" y="484.9" width="9.5" height="9.5"/><rect x="402.5" y="491.4" width="9.5" height="9.5"/><rect x="403.1" y="487.8" width="9.5" height="9.5"/><rect x="404.5" y="494.1" width="9.5" height="9.5"/><rect x="405" y="493.1" width="9.5" height="9.5"/><rect x="405.4" y="496.7" width="9.5" height="9.5"/><rect x="406.3" y="498.2" width="9.5" height="9.5"/><rect x="406.8" y="481.6" width="9.5" height="9.5"/><rect x="406.9" y="478.8" width="9.5" height="9.5"/><rect x="407.7" y="494.9" width="9.5" height="9.5"/><rect x="407.8" y="479.5" width="9.5" height="9.5"/><rect x="408.7" y="480.9" width="9.5" height="9.5"/><rect x="409.7" y="483.5" width="9.5" height="9.5"/><rect x="410.2" y="487" width="9.5" height="9.5"/><rect x="410.7" y="497.8" width="9.5" height="9.5"/><rect x="411.7" y="477.5" width="9.5" height="9.5"/><rect x="412.1" y="483.9" width="9.5" height="9.5"/><rect x="412.2" y="483.1" width="9.5" height="9.5"/><rect x="413.1" y="497.2" width="9.5" height="9.5"/><rect x="413.5" y="475.1" width="9.5" height="9.5"/><rect x="414.6" y="477.4" width="9.5" height="9.5"/><rect x="414.8" y="493.9" width="9.5" height="9.5"/><rect x="415.5" y="484.8" width="9.5" height="9.5"/><rect x="416.4" y="475.3" width="9.5" height="9.5"/><rect x="416.7" y="484.2" width="9.5" height="9.5"/><rect x="417.4" y="479.3" width="9.5" height="9.5"/><rect x="417.7" y="493.3" width="9.5" height="9.5"/><rect x="418.4" y="491.4" width="9.5" height="9.5"/><rect x="418.9" y="483.4" width="9.5" height="9.5"/><rect x="420.1" y="497.9" width="9.5" height="9.5"/><rect x="420.2" y="496.8" width="9.5" height="9.5"/><rect x="420.7" y="479.5" width="9.5" height="9.5"/><rect x="421.5" y="493.2" width="9.5" height="9.5"/><rect x="422.4" y="499.4" width="9.5" height="9.5"/><rect x="422.9" y="496.6" width="9.5" height="9.5"/><rect x="423.5" y="496.4" width="9.5" height="9.5"/><rect x="424.1" y="500.5" width="9.5" height="9.5"/><rect x="424.3" y="490.4" width="9.5" height="9.5"/><rect x="424.8" y="493.2" width="9.5" height="9.5"/><rect x="425.5" y="499.8" width="9.5" height="9.5"/><rect x="425.8" y="497.4" width="9.5" height="9.5"/><rect x="427" y="497.3" width="9.5" height="9.5"/><rect x="427.2" y="496.9" width="9.5" height="9.5"/><rect x="427.6" y="500.6" width="9.5" height="9.5"/><rect x="428.3" y="496.1" width="9.5" height="9.5"/><rect x="429.6" y="500.4" width="9.5" height="9.5"/><rect x="429.9" y="501.1" width="9.5" height="9.5"/><rect x="430" y="501.5" width="9.5" height="9.5"/><rect x="431.1" y="495.2" width="9.5" height="9.5"/><rect x="432" y="498.4" width="9.5" height="9.5"/><rect x="432.7" y="492.2" width="9.5" height="9.5"/><rect x="432.9" y="495.8" width="9.5" height="9.5"/><rect x="433.6" y="496.1" width="9.5" height="9.5"/><rect x="433.6" y="492.8" width="9.5" height="9.5"/><rect x="434.5" y="500.4" width="9.5" height="9.5"/><rect x="435.2" y="493.8" width="9.5" height="9.5"/><rect x="436" y="495" width="9.5" height="9.5"/><rect x="436.9" y="498.5" width="9.5" height="9.5"/><rect x="437" y="489.3" width="9.5" height="9.5"/><rect x="437.8" y="496.3" width="9.5" height="9.5"/><rect x="438.5" y="498.9" width="9.5" height="9.5"/><rect x="438.6" y="489.5" width="9.5" height="9.5"/><rect x="439.4" y="486.6" width="9.5" height="9.5"/><rect x="439.9" y="487.9" width="9.5" height="9.5"/><rect x="440.7" y="483.1" width="9.5" height="9.5"/><rect x="440.9" y="482.5" width="9.5" height="9.5"/><rect x="441.5" y="482.6" width="9.5" height="9.5"/><rect x="442.6" y="487.4" width="9.5" height="9.5"/><rect x="443.5" y="486.5" width="9.5" height="9.5"/><rect x="443.7" y="487.7" width="9.5" height="9.5"/><rect x="444.5" y="487.1" width="9.5" height="9.5"/><rect x="444.9" y="486.7" width="9.5" height="9.5"/><rect x="445.3" y="489.2" width="9.5" height="9.5"/><rect x="446.2" y="481.9" width="9.5" height="9.5"/><rect x="446.4" y="478.2" width="9.5" height="9.5"/><rect x="447.1" y="477.3" width="9.5" height="9.5"/><rect x="447.5" y="478" width="9.5" height="9.5"/><rect x="448.2" y="482" width="9.5" height="9.5"/><rect x="449.1" y="487.8" width="9.5" height="9.5"/><rect x="449.8" y="479.3" width="9.5" height="9.5"/><rect x="450.6" y="486.7" width="9.5" height="9.5"/><rect x="450.8" y="485.4" width="9.5" height="9.5"/><rect x="451.5" y="480.2" width="9.5" height="9.5"/><rect x="452.2" y="489.3" width="9.5" height="9.5"/><rect x="452.9" y="488.3" width="9.5" height="9.5"/><rect x="452.9" y="482.1" width="9.5" height="9.5"/><rect x="454.3" y="487.1" width="9.5" height="9.5"/><rect x="454.7" y="484.6" width="9.5" height="9.5"/><rect x="455.3" y="486.5" width="9.5" height="9.5"/><rect x="455.4" y="485.6" width="9.5" height="9.5"/><rect x="455.8" y="488" width="9.5" height="9.5"/><rect x="456.5" y="487.9" width="9.5" height="9.5"/><rect x="457.5" y="488.2" width="9.5" height="9.5"/><rect x="458.1" y="489.4" width="9.5" height="9.5"/><rect x="458.5" y="487.4" width="9.5" height="9.5"/><rect x="459.1" y="488.9" width="9.5" height="9.5"/><rect x="459.7" y="489.5" width="9.5" height="9.5"/><rect x="460" y="486.1" width="9.5" height="9.5"/><rect x="461" y="485.4" width="9.5" height="9.5"/><rect x="461.4" y="490.6" width="9.5" height="9.5"/><rect x="462.1" y="486" width="9.5" height="9.5"/><rect x="463.2" y="488.5" width="9.5" height="9.5"/><rect x="463.6" y="490" width="9.5" height="9.5"/><rect x="464.2" y="485" width="9.5" height="9.5"/><rect x="464.3" y="483.9" width="9.5" height="9.5"/><rect x="465.5" y="485.9" width="9.5" height="9.5"/><rect x="465.5" y="483.5" width="9.5" height="9.5"/><rect x="466.8" y="479.7" width="9.5" height="9.5"/><rect x="466.9" y="479.5" width="9.5" height="9.5"/><rect x="467.7" y="483" width="9.5" height="9.5"/><rect x="468.3" y="481.9" width="9.5" height="9.5"/><rect x="469" y="478.7" width="9.5" height="9.5"/><rect x="469.3" y="477.7" width="9.5" height="9.5"/><rect x="470.3" y="476.4" width="9.5" height="9.5"/><rect x="470.3" y="476.4" width="9.5" height="9.5"/><rect x="471.4" y="477" width="9.5" height="9.5"/><rect x="471.6" y="476.5" width="9.5" height="9.5"/><rect x="472" y="476.8" width="9.5" height="9.5"/><rect x="473.4" y="476.6" width="9.5" height="9.5"/><rect x="473.6" y="474.4" width="9.5" height="9.5"/><rect x="474" y="474.4" width="9.5" height="9.5"/><rect x="474.4" y="477.5" width="9.5" height="9.5"/><rect x="475.7" y="477" width="9.5" height="9.5"/><rect x="475.7" y="474.9" width="9.5" height="9.5"/><rect x="477.1" y="474.9" width="9.5" height="9.5"/><rect x="477.4" y="474.2" width="9.5" height="9.5"/><rect x="477.7" y="476.3" width="9.5" height="9.5"/><rect x="478.5" y="473.6" width="9.5" height="9.5"/><rect x="478.9" y="473.3" width="9.5" height="9.5"/><rect x="479.4" y="472" width="9.5" height="9.5"/><rect x="480.4" y="473.5" width="9.5" height="9.5"/><rect x="480.5" y="474.3" width="9.5" height="9.5"/><rect x="481.5" y="471" width="9.5" height="9.5"/><rect x="481.6" y="471.9" width="9.5" height="9.5"/><rect x="482.3" y="471" width="9.5" height="9.5"/><rect x="483" y="472.1" width="9.5" height="9.5"/><rect x="483.8" y="470.2" width="9.5" height="9.5"/><rect x="484.9" y="471.2" width="9.5" height="9.5"/><rect x="485.3" y="469.2" width="9.5" height="9.5"/><rect x="486" y="469.3" width="9.5" height="9.5"/><rect x="486.5" y="469.3" width="9.5" height="9.5"/><rect x="487" y="468.9" width="9.5" height="9.5"/><rect x="487.8" y="468.1" width="9.5" height="9.5"/><rect x="488" y="467.3" width="9.5" height="9.5"/><rect x="488.5" y="467.7" width="9.5" height="9.5"/><rect x="489" y="467" width="9.5" height="9.5"/><rect x="490.2" y="465.8" width="9.5" height="9.5"/><rect x="490.7" y="465.8" width="9.5" height="9.5"/><rect x="491.5" y="464.7" width="9.5" height="9.5"/><rect x="491.9" y="465" width="9.5" height="9.5"/><rect x="492.1" y="463" width="9.5" height="9.5"/><rect x="492.7" y="463.4" width="9.5" height="9.5"/><rect x="493.2" y="463.4" width="9.5" height="9.5"/><rect x="493.8" y="462.6" width="9.5" height="9.5"/><rect x="494.5" y="461.2" width="9.5" height="9.5"/><rect x="495.6" y="460.5" width="9.5" height="9.5"/><rect x="496" y="459.3" width="9.5" height="9.5"/><rect x="496.4" y="457.4" width="9.5" height="9.5"/><rect x="497.1" y="457.9" width="9.5" height="9.5"/><rect x="497.4" y="455.9" width="9.5" height="9.5"/><rect x="498.1" y="455.2" width="9.5" height="9.5"/><rect x="498.7" y="455.7" width="9.5" height="9.5"/><rect x="499.8" y="455" width="9.5" height="9.5"/><rect x="500" y="453.8" width="9.5" height="9.5"/><rect x="500.7" y="453.1" width="9.5" height="9.5"/><rect x="500.9" y="451.1" width="9.5" height="9.5"/><rect x="501.9" y="449.2" width="9.5" height="9.5"/><rect x="502.7" y="449.2" width="9.5" height="9.5"/><rect x="503.4" y="446.5" width="9.5" height="9.5"/><rect x="503.5" y="446.8" width="9.5" height="9.5"/><rect x="503.8" y="447.4" width="9.5" height="9.5"/><rect x="504.3" y="440" width="9.5" height="9.5"/><rect x="504.9" y="444.6" width="9.5" height="9.5"/><rect x="505.6" y="447.6" width="9.5" height="9.5"/><rect x="506.2" y="436.2" width="9.5" height="9.5"/><rect x="506.4" y="444.9" width="9.5" height="9.5"/><rect x="506.4" y="447.2" width="9.5" height="9.5"/><rect x="507.1" y="446.4" width="9.5" height="9.5"/><rect x="507.4" y="445.8" width="9.5" height="9.5"/><rect x="507.4" y="444.6" width="9.5" height="9.5"/><rect x="507.9" y="444" width="9.5" height="9.5"/><rect x="508.8" y="438.3" width="9.5" height="9.5"/><rect x="508.8" y="439.1" width="9.5" height="9.5"/><rect x="508.9" y="438" width="9.5" height="9.5"/><rect x="509.2" y="440.4" width="9.5" height="9.5"/><rect x="509.6" y="429.1" width="9.5" height="9.5"/><rect x="510.5" y="445.3" width="9.5" height="9.5"/><rect x="510.7" y="439.3" width="9.5" height="9.5"/><rect x="512.4" y="435.8" width="9.5" height="9.5"/><rect x="513.2" y="438" width="9.5" height="9.5"/><rect x="514.4" y="431.9" width="9.5" height="9.5"/><rect x="515.7" y="430" width="9.5" height="9.5"/><rect x="515.8" y="439.4" width="9.5" height="9.5"/><rect x="517.6" y="413" width="9.5" height="9.5"/><rect x="517.9" y="414.8" width="9.5" height="9.5"/><rect x="519.2" y="425.7" width="9.5" height="9.5"/><rect x="519.4" y="411.8" width="9.5" height="9.5"/><rect x="519.6" y="412.3" width="9.5" height="9.5"/><rect x="520.8" y="430.6" width="9.5" height="9.5"/><rect x="521.8" y="402.3" width="9.5" height="9.5"/><rect x="523.7" y="404.8" width="9.5" height="9.5"/><rect x="525.1" y="405.6" width="9.5" height="9.5"/><rect x="525.5" y="400.8" width="9.5" height="9.5"/><rect x="527.6" y="368.6" width="9.5" height="9.5"/><rect x="528.2" y="390.3" width="9.5" height="9.5"/><rect x="528.3" y="370.6" width="9.5" height="9.5"/><rect x="528.3" y="387.3" width="9.5" height="9.5"/><rect x="528.5" y="390" width="9.5" height="9.5"/><rect x="528.9" y="373" width="9.5" height="9.5"/><rect x="529" y="386.1" width="9.5" height="9.5"/><rect x="532" y="369.2" width="9.5" height="9.5"/><rect x="533.6" y="328.9" width="9.5" height="9.5"/><rect x="534.8" y="345.6" width="9.5" height="9.5"/><rect x="535.4" y="347.8" width="9.5" height="9.5"/><rect x="535.9" y="351.3" width="9.5" height="9.5"/><rect x="536" y="347.9" width="9.5" height="9.5"/><rect x="536.5" y="346.5" width="9.5" height="9.5"/><rect x="538.5" y="314" width="9.5" height="9.5"/><rect x="538.6" y="310.5" width="9.5" height="9.5"/><rect x="539" y="330.8" width="9.5" height="9.5"/><rect x="539.2" y="334.4" width="9.5" height="9.5"/><rect x="540.6" y="318.4" width="9.5" height="9.5"/><rect x="541.8" y="302.6" width="9.5" height="9.5"/><rect x="542.4" y="311.9" width="9.5" height="9.5"/><rect x="542.7" y="312.1" width="9.5" height="9.5"/><rect x="544.4" y="299.6" width="9.5" height="9.5"/><rect x="544.7" y="299.5" width="9.5" height="9.5"/><rect x="547.2" y="288.9" width="9.5" height="9.5"/><rect x="547.6" y="296.7" width="9.5" height="9.5"/><rect x="548.2" y="264.3" width="9.5" height="9.5"/><rect x="551" y="282.2" width="9.5" height="9.5"/><rect x="551.5" y="248.4" width="9.5" height="9.5"/><rect x="551.5" y="246.9" width="9.5" height="9.5"/><rect x="551.9" y="268.1" width="9.5" height="9.5"/><rect x="552.1" y="282.6" width="9.5" height="9.5"/><rect x="552.5" y="236.8" width="9.5" height="9.5"/><rect x="552.7" y="271" width="9.5" height="9.5"/><rect x="553.4" y="271.7" width="9.5" height="9.5"/><rect x="555.9" y="233.6" width="9.5" height="9.5"/><rect x="557.1" y="234.8" width="9.5" height="9.5"/><rect x="558" y="234.7" width="9.5" height="9.5"/><rect x="558.1" y="250.8" width="9.5" height="9.5"/><rect x="559.2" y="203.1" width="9.5" height="9.5"/><rect x="559.6" y="197.9" width="9.5" height="9.5"/><rect x="559.8" y="237.5" width="9.5" height="9.5"/><rect x="560.9" y="186.9" width="9.5" height="9.5"/><rect x="562.7" y="196.7" width="9.5" height="9.5"/><rect x="562.9" y="197.4" width="9.5" height="9.5"/><rect x="563" y="203.2" width="9.5" height="9.5"/><rect x="564.1" y="168" width="9.5" height="9.5"/><rect x="564.7" y="166" width="9.5" height="9.5"/><rect x="564.7" y="184.5" width="9.5" height="9.5"/><rect x="565.2" y="163.8" width="9.5" height="9.5"/><rect x="566.6" y="175.1" width="9.5" height="9.5"/><rect x="566.8" y="168" width="9.5" height="9.5"/><rect x="566.9" y="192.7" width="9.5" height="9.5"/><rect x="567.3" y="166.1" width="9.5" height="9.5"/><rect x="568.1" y="169.3" width="9.5" height="9.5"/><rect x="568.5" y="165.9" width="9.5" height="9.5"/><rect x="571.4" y="180.5" width="9.5" height="9.5"/><rect x="571.5" y="128.7" width="9.5" height="9.5"/><rect x="573.3" y="181" width="9.5" height="9.5"/><rect x="574.3" y="117.5" width="9.5" height="9.5"/><rect x="574.4" y="128.3" width="9.5" height="9.5"/><rect x="575.5" y="116.7" width="9.5" height="9.5"/><rect x="576.9" y="133.7" width="9.5" height="9.5"/><rect x="578.6" y="155.4" width="9.5" height="9.5"/><rect x="579" y="134.8" width="9.5" height="9.5"/><rect x="579.4" y="139" width="9.5" height="9.5"/><rect x="579.5" y="166.9" width="9.5" height="9.5"/><rect x="579.6" y="165.4" width="9.5" height="9.5"/><rect x="580.6" y="151.5" width="9.5" height="9.5"/><rect x="580.6" y="146.8" width="9.5" height="9.5"/><rect x="582.6" y="151.7" width="9.5" height="9.5"/><rect x="583.5" y="144.8" width="9.5" height="9.5"/><rect x="583.5" y="164.8" width="9.5" height="9.5"/><rect x="584.3" y="155.3" width="9.5" height="9.5"/><rect x="585.3" y="142.8" width="9.5" height="9.5"/><rect x="587.4" y="152.4" width="9.5" height="9.5"/><rect x="588" y="115.5" width="9.5" height="9.5"/><rect x="588.5" y="149.6" width="9.5" height="9.5"/><rect x="589.7" y="129.8" width="9.5" height="9.5"/><rect x="590.5" y="125.6" width="9.5" height="9.5"/><rect x="590.7" y="121.3" width="9.5" height="9.5"/><rect x="591.3" y="114.9" width="9.5" height="9.5"/><rect x="592.8" y="135.1" width="9.5" height="9.5"/><rect x="592.9" y="130.9" width="9.5" height="9.5"/><rect x="593.9" y="123.3" width="9.5" height="9.5"/><rect x="597.5" y="101.8" width="9.5" height="9.5"/><rect x="598.1" y="134.9" width="9.5" height="9.5"/><rect x="598.8" y="141.1" width="9.5" height="9.5"/><rect x="599.4" y="100.1" width="9.5" height="9.5"/><rect x="600.1" y="111.2" width="9.5" height="9.5"/><rect x="601.3" y="104.1" width="9.5" height="9.5"/><rect x="602.2" y="106.5" width="9.5" height="9.5"/><rect x="602.9" y="117.6" width="9.5" height="9.5"/><rect x="604.9" y="103.9" width="9.5" height="9.5"/><rect x="604.9" y="117.5" width="9.5" height="9.5"/><rect x="607.9" y="120.3" width="9.5" height="9.5"/><rect x="608.4" y="113.1" width="9.5" height="9.5"/><rect x="608.7" y="118" width="9.5" height="9.5"/><rect x="609.4" y="127.8" width="9.5" height="9.5"/><rect x="610.4" y="108.5" width="9.5" height="9.5"/><rect x="612.9" y="117.8" width="9.5" height="9.5"/><rect x="613.1" y="111.1" width="9.5" height="9.5"/><rect x="613.3" y="133" width="9.5" height="9.5"/><rect x="613.5" y="140.1" width="9.5" height="9.5"/><rect x="613.6" y="132.9" width="9.5" height="9.5"/><rect x="616.6" y="135.2" width="9.5" height="9.5"/><rect x="617.1" y="135.3" width="9.5" height="9.5"/><rect x="618.7" y="139.3" width="9.5" height="9.5"/><rect x="620" y="147.9" width="9.5" height="9.5"/><rect x="620.1" y="132.9" width="9.5" height="9.5"/><rect x="620.1" y="138.4" width="9.5" height="9.5"/><rect x="621.5" y="149.1" width="9.5" height="9.5"/><rect x="623" y="160.8" width="9.5" height="9.5"/><rect x="624" y="144.9" width="9.5" height="9.5"/><rect x="626" y="187.3" width="9.5" height="9.5"/><rect x="628.9" y="203.4" width="9.5" height="9.5"/><rect x="631" y="222.8" width="9.5" height="9.5"/><rect x="631.4" y="217.4" width="9.5" height="9.5"/><rect x="634.5" y="239.1" width="9.5" height="9.5"/><rect x="637" y="255.9" width="9.5" height="9.5"/><rect x="639" y="289.6" width="9.5" height="9.5"/><rect x="640.9" y="319.4" width="9.5" height="9.5"/></g>
<g font-family="Liberation Sans, sans-serif" fill="#000">
<text font-size="34.3" text-anchor="middle" transform="translate(31.2 270.7) rotate(-90)">Intensity (arb. units)</text>
<text x="427.2" y="605.2" font-size="34.1" text-anchor="middle">Photon Energy (eV)</text>
<text x="163.8" y="98" font-size="63.5" font-weight="bold" textLength="32" lengthAdjust="spacingAndGlyphs">a</text>
<text x="512" y="100.7" font-size="35.3">TPA</text>
<text x="165" y="453.6" font-size="42.6" textLength="69.5" lengthAdjust="spacingAndGlyphs">Pt-1</text>
</g>
<g transform="translate(271.4 78.5)"><path fill-rule="evenodd" d="M0 11.6a9.8 11.2 0 1 0 19.6 0a9.8 11.2 0 1 0 -19.6 0Z M5 11.8a6.2 9.4 0 1 0 12.4 0a6.2 9.4 0 1 0 -12.4 0Z"/><path fill="none" stroke="#000" stroke-width="3" d="M24.6 0.8C22.4 5.5 20.4 10.5 19.6 13.8C20.3 18.2 21.7 21.4 24 21.4C25.8 21.4 26.8 19.6 27.3 17.2"/></g>
<rect x="120" y="631" width="613.5" height="487.8" fill="none" stroke="#000" stroke-width="1.4"/>
<path d="M147.8 1118.8V1112.8M147.8 631V637M175.7 1118.8V1107.3M175.7 631V642.5M203.6 1118.8V1112.8M203.6 631V637M231.4 1118.8V1112.8M231.4 631V637M259.3 1118.8V1112.8M259.3 631V637M287.2 1118.8V1112.8M287.2 631V637M315 1118.8V1107.3M315 631V642.5M342.9 1118.8V1112.8M342.9 631V637M370.8 1118.8V1112.8M370.8 631V637M398.6 1118.8V1112.8M398.6 631V637M426.5 1118.8V1112.8M426.5 631V637M454.4 1118.8V1107.3M454.4 631V642.5M482.3 1118.8V1112.8M482.3 631V637M510.1 1118.8V1112.8M510.1 631V637M538 1118.8V1112.8M538 631V637M565.9 1118.8V1112.8M565.9 631V637M593.7 1118.8V1107.3M593.7 631V642.5M621.6 1118.8V1112.8M621.6 631V637M649.5 1118.8V1112.8M649.5 631V637M677.4 1118.8V1112.8M677.4 631V637M705.2 1118.8V1112.8M705.2 631V637M120 1037.5H131.5M733.5 1037.5H722M120 956.2H131.5M733.5 956.2H722M120 874.9H131.5M733.5 874.9H722M120 793.6H131.5M733.5 793.6H722M120 712.3H131.5M733.5 712.3H722" stroke="#000" stroke-width="1.4" fill="none"/>
<g font-family="Liberation Sans, sans-serif" font-size="35.5" fill="#000"><text x="105.8" y="1127.2" text-anchor="end" font-size="34.7">0</text><text x="105.8" y="1045.9" text-anchor="end" font-size="34.7">0.2</text><text x="105.8" y="964.6" text-anchor="end" font-size="34.7">0.4</text><text x="105.8" y="883.3" text-anchor="end" font-size="34.7">0.6</text><text x="105.8" y="802" text-anchor="end" font-size="34.7">0.8</text><text x="105.8" y="720.7" text-anchor="end" font-size="34.7">1</text><text x="105.8" y="639.4" text-anchor="end" font-size="34.7">1.2</text><text x="175.7" y="1154.4" text-anchor="middle">2.5</text><text x="315" y="1154.4" text-anchor="middle">3</text><text x="454.4" y="1154.4" text-anchor="middle">3.5</text><text x="593.7" y="1154.4" text-anchor="middle">4</text><text x="733.1" y="1154.4" text-anchor="middle">4.5</text></g>
<path d="M120.5 1108.8 L121.2 1108.8 L121.9 1108.8 L122.6 1108.7 L123.3 1108.7 L124 1108.7 L124.7 1108.7 L125.4 1108.7 L126.1 1108.7 L126.8 1108.7 L127.5 1108.7 L128.2 1108.7 L128.9 1108.7 L129.6 1108.7 L130.3 1108.7 L131 1108.7 L131.7 1108.7 L132.4 1108.6 L133.1 1108.6 L133.8 1108.6 L134.5 1108.6 L135.2 1108.6 L135.9 1108.6 L136.6 1108.6 L137.3 1108.6 L138 1108.6 L138.7 1108.6 L139.4 1108.6 L140.1 1108.6 L140.8 1108.6 L141.5 1108.6 L142.2 1108.6 L142.9 1108.6 L143.6 1108.6 L144.3 1108.6 L145 1108.6 L145.7 1108.6 L146.4 1108.6 L147.1 1108.6 L147.8 1108.6 L148.5 1108.6 L149.2 1108.6 L149.9 1108.6 L150.6 1108.6 L151.3 1108.6 L152 1108.6 L152.7 1108.6 L153.4 1108.6 L154.1 1108.6 L154.8 1108.6 L155.5 1108.6 L156.2 1108.6 L156.9 1108.6 L157.6 1108.6 L158.3 1108.6 L159 1108.6 L159.7 1108.6 L160.4 1108.6 L161.1 1108.6 L161.8 1108.6 L162.5 1108.6 L163.2 1108.6 L163.9 1108.6 L164.6 1108.6 L165.3 1108.6 L166 1108.6 L166.7 1108.6 L167.4 1108.6 L168.1 1108.6 L168.8 1108.6 L169.5 1108.6 L170.2 1108.6 L170.9 1108.5 L171.6 1108.5 L172.3 1108.5 L173 1108.5 L173.7 1108.5 L174.4 1108.5 L175.1 1108.5 L175.8 1108.5 L176.5 1108.5 L177.2 1108.5 L177.9 1108.5 L178.6 1108.5 L179.3 1108.5 L180 1108.5 L180.7 1108.5 L181.4 1108.5 L182.1 1108.5 L182.8 1108.5 L183.5 1108.5 L184.2 1108.4 L184.9 1108.4 L185.6 1108.4 L186.3 1108.4 L187 1108.4 L187.7 1108.4 L188.4 1108.4 L189.1 1108.4 L189.8 1108.4 L190.5 1108.4 L191.2 1108.3 L191.9 1108.3 L192.6 1108.3 L193.3 1108.3 L194 1108.3 L194.7 1108.3 L195.4 1108.3 L196.1 1108.3 L196.8 1108.2 L197.5 1108.2 L198.2 1108.2 L198.9 1108.2 L199.6 1108.2 L200.3 1108.2 L201 1108.1 L201.7 1108.1 L202.4 1108.1 L203.1 1108.1 L203.8 1108.1 L204.5 1108 L205.2 1108 L205.9 1108 L206.6 1108 L207.3 1107.9 L208 1107.9 L208.7 1107.9 L209.4 1107.9 L210.1 1107.8 L210.8 1107.8 L211.5 1107.8 L212.2 1107.8 L212.9 1107.7 L213.6 1107.7 L214.3 1107.7 L215 1107.6 L215.7 1107.6 L216.4 1107.6 L217.1 1107.6 L217.8 1107.5 L218.5 1107.5 L219.2 1107.5 L219.9 1107.4 L220.6 1107.4 L221.3 1107.4 L222 1107.3 L222.7 1107.3 L223.4 1107.2 L224.1 1107.2 L224.8 1107.2 L225.5 1107.1 L226.2 1107.1 L226.9 1107.1 L227.6 1107 L228.3 1107 L229 1107 L229.7 1106.9 L230.4 1106.9 L231.1 1106.8 L231.8 1106.8 L232.5 1106.8 L233.2 1106.7 L233.9 1106.7 L234.6 1106.6 L235.3 1106.6 L236 1106.6 L236.7 1106.5 L237.4 1106.5 L238.1 1106.4 L238.8 1106.4 L239.5 1106.4 L240.2 1106.3 L240.9 1106.3 L241.6 1106.3 L242.3 1106.2 L243 1106.2 L243.7 1106.1 L244.4 1106.1 L245.1 1106.1 L245.8 1106 L246.5 1106 L247.2 1106 L247.9 1105.9 L248.6 1105.9 L249.3 1105.8 L250 1105.8 L250.7 1105.8 L251.4 1105.7 L252.1 1105.7 L252.8 1105.7 L253.5 1105.6 L254.2 1105.6 L254.9 1105.6 L255.6 1105.5 L256.3 1105.5 L257 1105.5 L257.7 1105.4 L258.4 1105.4 L259.1 1105.4 L259.8 1105.3 L260.5 1105.3 L261.2 1105.3 L261.9 1105.2 L262.6 1105.2 L263.3 1105.2 L264 1105.1 L264.7 1105.1 L265.4 1105.1 L266.1 1105 L266.8 1105 L267.5 1104.9 L268.2 1104.9 L268.9 1104.8 L269.6 1104.8 L270.3 1104.8 L271 1104.7 L271.7 1104.7 L272.4 1104.6 L273.1 1104.6 L273.8 1104.5 L274.5 1104.4 L275.2 1104.4 L275.9 1104.3 L276.6 1104.3 L277.3 1104.2 L278 1104.1 L278.7 1104.1 L279.4 1104 L280.1 1103.9 L280.8 1103.9 L281.5 1103.8 L282.2 1103.7 L282.9 1103.6 L283.6 1103.5 L284.3 1103.4 L285 1103.4 L285.7 1103.3 L286.4 1103.2 L287.1 1103.1 L287.8 1103 L288.5 1102.9 L289.2 1102.8 L289.9 1102.6 L290.6 1102.5 L291.3 1102.4 L292 1102.3 L292.7 1102.1 L293.4 1102 L294.1 1101.8 L294.8 1101.7 L295.5 1101.5 L296.2 1101.3 L296.9 1101.1 L297.6 1100.9 L298.3 1100.7 L299 1100.4 L299.7 1100.2 L300.4 1099.9 L301.1 1099.6 L301.8 1099.2 L302.5 1098.9 L303.2 1098.5 L303.9 1098.1 L304.6 1097.6 L305.3 1097.1 L306 1096.6 L306.7 1096 L307.4 1095.3 L308.1 1094.6 L308.8 1093.9 L309.5 1093 L310.2 1092.1 L310.9 1091.2 L311.6 1090.1 L312.3 1089 L313 1087.8 L313.7 1086.5 L314.4 1085.1 L315.1 1083.6 L315.8 1081.9 L316.5 1080 L317.2 1078 L317.9 1075.6 L318.6 1072.9 L319.3 1069.6 L320 1065.7 L320.7 1061.4 L321.4 1056.6 L322.1 1051.7 L322.8 1047 L323.5 1042.7 L324.2 1038.9 L324.9 1035.4 L325.6 1031.7 L326.3 1027.7 L327 1022.8 L327.7 1016.4 L328.4 1009.1 L329.1 1002.1 L329.8 995.4 L330.5 988.7 L331.2 981.6 L331.9 973.7 L332.6 963.5 L333.3 952.3 L334 944 L334.7 937.8 L335.4 932.2 L336.1 926.7 L336.8 920.8 L337.5 913.7 L338.2 904.7 L338.9 894.2 L339.6 883.8 L340.3 875.1 L341 868.2 L341.7 862.1 L342.4 856.1 L343.1 849.3 L343.8 839.8 L344.5 828.3 L345.2 820.2 L345.9 814 L346.6 808 L347.3 801 L348 792.3 L348.7 784.7 L349.4 779.3 L350.1 774.8 L350.8 770.8 L351.5 767.1 L352.2 763.6 L352.9 760.1 L353.6 756.7 L354.3 753.3 L355 749.8 L355.7 746.3 L356.4 742.9 L357.1 739.7 L357.8 736.7 L358.5 733.9 L359.2 731.4 L359.9 729.1 L360.6 727.1 L361.3 725.4 L362 723.9 L362.7 722.6 L363.4 721.4 L364.1 720.4 L364.8 719.5 L365.5 718.7 L366.2 718 L366.9 717.4 L367.6 716.8 L368.3 716.3 L369 715.8 L369.7 715.4 L370.4 715 L371.1 714.6 L371.8 714.3 L372.5 714 L373.2 713.7 L373.9 713.4 L374.6 713.2 L375.3 713 L376 712.8 L376.7 712.7 L377.4 712.6 L378.1 712.5 L378.8 712.4 L379.5 712.3 L380.2 712.3 L380.9 712.2 L381.6 712.2 L382.3 712.3 L383 712.3 L383.7 712.3 L384.4 712.4 L385.1 712.5 L385.8 712.6 L386.5 712.8 L387.2 712.9 L387.9 713.1 L388.6 713.3 L389.3 713.5 L390 713.7 L390.7 713.9 L391.4 714.2 L392.1 714.5 L392.8 714.8 L393.5 715.2 L394.2 715.5 L394.9 715.9 L395.6 716.4 L396.3 716.8 L397 717.3 L397.7 717.8 L398.4 718.4 L399.1 718.9 L399.8 719.5 L400.5 720.2 L401.2 720.8 L401.9 721.5 L402.6 722.2 L403.3 723 L404 723.8 L404.7 724.6 L405.4 725.4 L406.1 726.2 L406.8 727.1 L407.5 728 L408.2 728.9 L408.9 729.8 L409.6 730.7 L410.3 731.7 L411 732.7 L411.7 733.7 L412.4 734.8 L413.1 735.9 L413.8 737 L414.5 738.2 L415.2 739.4 L415.9 740.6 L416.6 742 L417.3 743.3 L418 744.8 L418.7 746.3 L419.4 747.8 L420.1 749.5 L420.8 751.2 L421.5 752.9 L422.2 754.8 L422.9 756.7 L423.6 758.6 L424.3 760.6 L425 762.5 L425.7 764.5 L426.4 766.5 L427.1 768.5 L427.8 770.4 L428.5 772.3 L429.2 774.2 L429.9 776.1 L430.6 777.9 L431.3 779.7 L432 781.5 L432.7 783.3 L433.4 785.1 L434.1 786.9 L434.8 788.7 L435.5 790.5 L436.2 792.2 L436.9 794 L437.6 795.8 L438.3 797.6 L439 799.4 L439.7 801.2 L440.4 803 L441.1 804.9 L441.8 806.8 L442.5 808.6 L443.2 810.5 L443.9 812.4 L444.6 814.3 L445.3 816.2 L446 818 L446.7 819.8 L447.4 821.6 L448.1 823.4 L448.8 825.1 L449.5 826.8 L450.2 828.4 L450.9 830 L451.6 831.6 L452.3 833.1 L453 834.6 L453.7 836 L454.4 837.5 L455.1 838.9 L455.8 840.3 L456.5 841.7 L457.2 843 L457.9 844.4 L458.6 845.7 L459.3 847.1 L460 848.4 L460.7 849.7 L461.4 851.1 L462.1 852.4 L462.8 853.7 L463.5 855.1 L464.2 856.4 L464.9 857.7 L465.6 859.1 L466.3 860.4 L467 861.8 L467.7 863.2 L468.4 864.5 L469.1 866 L469.8 867.4 L470.5 868.8 L471.2 870.2 L471.9 871.7 L472.6 873.1 L473.3 874.6 L474 876.1 L474.7 877.5 L475.4 878.9 L476.1 880.4 L476.8 881.8 L477.5 883.2 L478.2 884.5 L478.9 885.9 L479.6 887.2 L480.3 888.6 L481 889.9 L481.7 891.2 L482.4 892.5 L483.1 893.7 L483.8 895 L484.5 896.3 L485.2 897.5 L485.9 898.8 L486.6 900 L487.3 901.2 L488 902.5 L488.7 903.7 L489.4 904.9 L490.1 906.2 L490.8 907.4 L491.5 908.6 L492.2 909.8 L492.9 911 L493.6 912.3 L494.3 913.5 L495 914.7 L495.7 916 L496.4 917.2 L497.1 918.5 L497.8 919.7 L498.5 920.9 L499.2 922.2 L499.9 923.4 L500.6 924.6 L501.3 925.8 L502 927 L502.7 928.2 L503.4 929.3 L504.1 930.5 L504.8 931.6 L505.5 932.6 L506.2 933.7 L506.9 934.7 L507.6 935.7 L508.3 936.7 L509 937.6 L509.7 938.5 L510.4 939.5 L511.1 940.4 L511.8 941.3 L512.5 942.1 L513.2 943 L513.9 943.9 L514.6 944.7 L515.3 945.6 L516 946.4 L516.7 947.2 L517.4 948.1 L518.1 948.9 L518.8 949.7 L519.5 950.5 L520.2 951.4 L520.9 952.2 L521.6 953 L522.3 953.8 L523 954.7 L523.7 955.5 L524.4 956.3 L525.1 957.2 L525.8 958 L526.5 958.8 L527.2 959.6 L527.9 960.5 L528.6 961.3 L529.3 962.1 L530 962.9 L530.7 963.7 L531.4 964.5 L532.1 965.2 L532.8 966 L533.5 966.7 L534.2 967.4 L534.9 968.1 L535.6 968.7 L536.3 969.4 L537 970 L537.7 970.6 L538.4 971.2 L539.1 971.8 L539.8 972.4 L540.5 973 L541.2 973.5 L541.9 974.1 L542.6 974.6 L543.3 975.1 L544 975.6 L544.7 976.1 L545.4 976.6 L546.1 977.1 L546.8 977.6 L547.5 978.1 L548.2 978.5 L548.9 979 L549.6 979.4 L550.3 979.9 L551 980.3 L551.7 980.7 L552.4 981.2 L553.1 981.6 L553.8 982 L554.5 982.4 L555.2 982.8 L555.9 983.2 L556.6 983.6 L557.3 984 L558 984.4 L558.7 984.8 L559.4 985.2 L560.1 985.6 L560.8 985.9 L561.5 986.3 L562.2 986.7 L562.9 987 L563.6 987.4 L564.3 987.8 L565 988.1 L565.7 988.5 L566.4 988.8 L567.1 989.2 L567.8 989.5 L568.5 989.9 L569.2 990.2 L569.9 990.6 L570.6 990.9 L571.3 991.3 L572 991.6 L572.7 992 L573.4 992.3 L574.1 992.6 L574.8 993 L575.5 993.3 L576.2 993.7 L576.9 994 L577.6 994.3 L578.3 994.7 L579 995 L579.7 995.4 L580.4 995.7 L581.1 996 L581.8 996.4 L582.5 996.7 L583.2 997 L583.9 997.4 L584.6 997.7 L585.3 998 L586 998.3 L586.7 998.6 L587.4 998.9 L588.1 999.2 L588.8 999.5 L589.5 999.8 L590.2 1000.1 L590.9 1000.4 L591.6 1000.7 L592.3 1001 L593 1001.2 L593.7 1001.5 L594.4 1001.7 L595.1 1002 L595.8 1002.2 L596.5 1002.5 L597.2 1002.7 L597.9 1002.9 L598.6 1003.1 L599.3 1003.3 L600 1003.5 L600.7 1003.7 L601.4 1003.9 L602.1 1004.1 L602.8 1004.2 L603.5 1004.4 L604.2 1004.6 L604.9 1004.7 L605.6 1004.9 L606.3 1005 L607 1005.2 L607.7 1005.3 L608.4 1005.4 L609.1 1005.6 L609.8 1005.7 L610.5 1005.8 L611.2 1005.9 L611.9 1006 L612.6 1006.1 L613.3 1006.2 L614 1006.3 L614.7 1006.4 L615.4 1006.5 L616.1 1006.6 L616.8 1006.6 L617.5 1006.7 L618.2 1006.8 L618.9 1006.9 L619.6 1006.9 L620.3 1007 L621 1007 L621.7 1007.1 L622.4 1007.2 L623.1 1007.2 L623.8 1007.2 L624.5 1007.3 L625.2 1007.3 L625.9 1007.4 L626.6 1007.4 L627.3 1007.4 L628 1007.5 L628.7 1007.5 L629.4 1007.5 L630.1 1007.5 L630.8 1007.6 L631.5 1007.6 L632.2 1007.6 L632.9 1007.6 L633.6 1007.6 L634.3 1007.6 L635 1007.6 L635.7 1007.7 L636.4 1007.7 L637.1 1007.7 L637.8 1007.7 L638.5 1007.7 L639.2 1007.7 L639.9 1007.7 L640.6 1007.7 L641.3 1007.7 L642 1007.7 L642.7 1007.7 L643.4 1007.7 L644.1 1007.7 L644.8 1007.7 L645.5 1007.7 L646.2 1007.7 L646.9 1007.7 L647.6 1007.7 L648.3 1007.7 L649 1007.7 L649.7 1007.7 L650.4 1007.7 L651.1 1007.7 L651.8 1007.7 L652.5 1007.7 L653.2 1007.7 L653.9 1007.7 L654.6 1007.7 L655.3 1007.7 L656 1007.7 L656.7 1007.7 L657.4 1007.7 L658.1 1007.7 L658.8 1007.7 L659.5 1007.7 L660.2 1007.7 L660.9 1007.7 L661.6 1007.7 L662.3 1007.7 L663 1007.7 L663.7 1007.7 L664.4 1007.7 L665.1 1007.7 L665.8 1007.7 L666.5 1007.7 L667.2 1007.7 L667.9 1007.7 L668.6 1007.7 L669.3 1007.7 L670 1007.7 L670.7 1007.7 L671.4 1007.7 L672.1 1007.7 L672.8 1007.7 L673.5 1007.7 L674.2 1007.7 L674.9 1007.7 L675.6 1007.7 L676.3 1007.7 L677 1007.7 L677.7 1007.7 L678.4 1007.7 L679.1 1007.7 L679.8 1007.7 L680.5 1007.7 L681.2 1007.7 L681.9 1007.7 L682.6 1007.7 L683.3 1007.7 L684 1007.7" fill="none" stroke="#dc1f27" stroke-width="1.3" stroke-linejoin="round"/>
<g fill="none" stroke="#dc1f27" stroke-width="1.8"><ellipse cx="120" cy="1108.8" rx="4.7" ry="4.5"/><ellipse cx="121.2" cy="1108.8" rx="4.7" ry="4.5"/><ellipse cx="122.4" cy="1108.8" rx="4.7" ry="4.5"/><ellipse cx="123.6" cy="1108.7" rx="4.7" ry="4.5"/><ellipse cx="124.8" cy="1108.7" rx="4.7" ry="4.5"/><ellipse cx="126" cy="1108.7" rx="4.7" ry="4.5"/><ellipse cx="127.2" cy="1108.7" rx="4.7" ry="4.5"/><ellipse cx="128.5" cy="1108.7" rx="4.7" ry="4.5"/><ellipse cx="129.7" cy="1108.7" rx="4.7" ry="4.5"/><ellipse cx="130.9" cy="1108.7" rx="4.7" ry="4.5"/><ellipse cx="132.1" cy="1108.7" rx="4.7" ry="4.5"/><ellipse cx="133.4" cy="1108.6" rx="4.7" ry="4.5"/><ellipse cx="134.6" cy="1108.6" rx="4.7" ry="4.5"/><ellipse cx="135.9" cy="1108.6" rx="4.7" ry="4.5"/><ellipse cx="137.1" cy="1108.6" rx="4.7" ry="4.5"/><ellipse cx="138.4" cy="1108.6" rx="4.7" ry="4.5"/><ellipse cx="139.6" cy="1108.6" rx="4.7" ry="4.5"/><ellipse cx="140.9" cy="1108.6" rx="4.7" ry="4.5"/><ellipse cx="142.2" cy="1108.6" rx="4.7" ry="4.5"/><ellipse cx="143.4" cy="1108.6" rx="4.7" ry="4.5"/><ellipse cx="144.7" cy="1108.6" rx="4.7" ry="4.5"/><ellipse cx="146" cy="1108.6" rx="4.7" ry="4.5"/><ellipse cx="147.3" cy="1108.6" rx="4.7" ry="4.5"/><ellipse cx="148.6" cy="1108.6" rx="4.7" ry="4.5"/><ellipse cx="149.9" cy="1108.6" rx="4.7" ry="4.5"/><ellipse cx="151.2" cy="1108.6" rx="4.7" ry="4.5"/><ellipse cx="152.5" cy="1108.6" rx="4.7" ry="4.5"/><ellipse cx="153.8" cy="1108.6" rx="4.7" ry="4.5"/><ellipse cx="155.2" cy="1108.6" rx="4.7" ry="4.5"/><ellipse cx="156.5" cy="1108.6" rx="4.7" ry="4.5"/><ellipse cx="157.8" cy="1108.6" rx="4.7" ry="4.5"/><ellipse cx="159.1" cy="1108.6" rx="4.7" ry="4.5"/><ellipse cx="160.5" cy="1108.6" rx="4.7" ry="4.5"/><ellipse cx="161.8" cy="1108.6" rx="4.7" ry="4.5"/><ellipse cx="163.2" cy="1108.6" rx="4.7" ry="4.5"/><ellipse cx="164.5" cy="1108.6" rx="4.7" ry="4.5"/><ellipse cx="165.9" cy="1108.6" rx="4.7" ry="4.5"/><ellipse cx="167.3" cy="1108.6" rx="4.7" ry="4.5"/><ellipse cx="168.6" cy="1108.6" rx="4.7" ry="4.5"/><ellipse cx="170" cy="1108.6" rx="4.7" ry="4.5"/><ellipse cx="171.4" cy="1108.5" rx="4.7" ry="4.5"/><ellipse cx="172.8" cy="1108.5" rx="4.7" ry="4.5"/><ellipse cx="174.2" cy="1108.5" rx="4.7" ry="4.5"/><ellipse cx="175.6" cy="1108.5" rx="4.7" ry="4.5"/><ellipse cx="177" cy="1108.5" rx="4.7" ry="4.5"/><ellipse cx="178.4" cy="1108.5" rx="4.7" ry="4.5"/><ellipse cx="179.8" cy="1108.5" rx="4.7" ry="4.5"/><ellipse cx="181.3" cy="1108.5" rx="4.7" ry="4.5"/><ellipse cx="182.7" cy="1108.5" rx="4.7" ry="4.5"/><ellipse cx="184.1" cy="1108.4" rx="4.7" ry="4.5"/><ellipse cx="185.6" cy="1108.4" rx="4.7" ry="4.5"/><ellipse cx="187" cy="1108.4" rx="4.7" ry="4.5"/><ellipse cx="188.5" cy="1108.4" rx="4.7" ry="4.5"/><ellipse cx="189.9" cy="1108.4" rx="4.7" ry="4.5"/><ellipse cx="191.4" cy="1108.3" rx="4.7" ry="4.5"/><ellipse cx="192.9" cy="1108.3" rx="4.7" ry="4.5"/><ellipse cx="194.4" cy="1108.3" rx="4.7" ry="4.5"/><ellipse cx="195.8" cy="1108.3" rx="4.7" ry="4.5"/><ellipse cx="197.3" cy="1108.2" rx="4.7" ry="4.5"/><ellipse cx="198.8" cy="1108.2" rx="4.7" ry="4.5"/><ellipse cx="200.3" cy="1108.2" rx="4.7" ry="4.5"/><ellipse cx="201.8" cy="1108.1" rx="4.7" ry="4.5"/><ellipse cx="203.3" cy="1108.1" rx="4.7" ry="4.5"/><ellipse cx="204.9" cy="1108" rx="4.7" ry="4.5"/><ellipse cx="206.4" cy="1108" rx="4.7" ry="4.5"/><ellipse cx="207.9" cy="1107.9" rx="4.7" ry="4.5"/><ellipse cx="209.5" cy="1107.9" rx="4.7" ry="4.5"/><ellipse cx="211" cy="1107.8" rx="4.7" ry="4.5"/><ellipse cx="212.6" cy="1107.7" rx="4.7" ry="4.5"/><ellipse cx="214.1" cy="1107.7" rx="4.7" ry="4.5"/><ellipse cx="215.7" cy="1107.6" rx="4.7" ry="4.5"/><ellipse cx="217.3" cy="1107.5" rx="4.7" ry="4.5"/><ellipse cx="218.9" cy="1107.5" rx="4.7" ry="4.5"/><ellipse cx="220.4" cy="1107.4" rx="4.7" ry="4.5"/><ellipse cx="222" cy="1107.3" rx="4.7" ry="4.5"/><ellipse cx="223.6" cy="1107.2" rx="4.7" ry="4.5"/><ellipse cx="225.3" cy="1107.1" rx="4.7" ry="4.5"/><ellipse cx="226.9" cy="1107.1" rx="4.7" ry="4.5"/><ellipse cx="228.5" cy="1107" rx="4.7" ry="4.5"/><ellipse cx="230.1" cy="1106.9" rx="4.7" ry="4.5"/><ellipse cx="231.8" cy="1106.8" rx="4.7" ry="4.5"/><ellipse cx="233.4" cy="1106.7" rx="4.7" ry="4.5"/><ellipse cx="235.1" cy="1106.6" rx="4.7" ry="4.5"/><ellipse cx="236.7" cy="1106.5" rx="4.7" ry="4.5"/><ellipse cx="238.4" cy="1106.4" rx="4.7" ry="4.5"/><ellipse cx="240" cy="1106.3" rx="4.7" ry="4.5"/><ellipse cx="241.7" cy="1106.2" rx="4.7" ry="4.5"/><ellipse cx="243.4" cy="1106.2" rx="4.7" ry="4.5"/><ellipse cx="245.1" cy="1106.1" rx="4.7" ry="4.5"/><ellipse cx="246.8" cy="1106" rx="4.7" ry="4.5"/><ellipse cx="248.5" cy="1105.9" rx="4.7" ry="4.5"/><ellipse cx="250.2" cy="1105.8" rx="4.7" ry="4.5"/><ellipse cx="252" cy="1105.7" rx="4.7" ry="4.5"/><ellipse cx="253.7" cy="1105.6" rx="4.7" ry="4.5"/><ellipse cx="255.4" cy="1105.5" rx="4.7" ry="4.5"/><ellipse cx="257.2" cy="1105.5" rx="4.7" ry="4.5"/><ellipse cx="258.9" cy="1105.4" rx="4.7" ry="4.5"/><ellipse cx="260.7" cy="1105.3" rx="4.7" ry="4.5"/><ellipse cx="262.5" cy="1105.2" rx="4.7" ry="4.5"/><ellipse cx="264.3" cy="1105.1" rx="4.7" ry="4.5"/><ellipse cx="266.1" cy="1105" rx="4.7" ry="4.5"/><ellipse cx="267.9" cy="1104.9" rx="4.7" ry="4.5"/><ellipse cx="269.7" cy="1104.8" rx="4.7" ry="4.5"/><ellipse cx="271.5" cy="1104.7" rx="4.7" ry="4.5"/><ellipse cx="273.3" cy="1104.5" rx="4.7" ry="4.5"/><ellipse cx="275.1" cy="1104.4" rx="4.7" ry="4.5"/><ellipse cx="277" cy="1104.2" rx="4.7" ry="4.5"/><ellipse cx="278.8" cy="1104.1" rx="4.7" ry="4.5"/><ellipse cx="280.7" cy="1103.9" rx="4.7" ry="4.5"/><ellipse cx="282.5" cy="1103.7" rx="4.7" ry="4.5"/><ellipse cx="284.4" cy="1103.4" rx="4.7" ry="4.5"/><ellipse cx="286.3" cy="1103.2" rx="4.7" ry="4.5"/><ellipse cx="288.2" cy="1102.9" rx="4.7" ry="4.5"/><ellipse cx="290.1" cy="1102.6" rx="4.7" ry="4.5"/><ellipse cx="292" cy="1102.3" rx="4.7" ry="4.5"/><ellipse cx="293.9" cy="1101.9" rx="4.7" ry="4.5"/><ellipse cx="295.8" cy="1101.4" rx="4.7" ry="4.5"/><ellipse cx="297.8" cy="1100.8" rx="4.7" ry="4.5"/><ellipse cx="299.7" cy="1100.2" rx="4.7" ry="4.5"/><ellipse cx="301.7" cy="1099.3" rx="4.7" ry="4.5"/><ellipse cx="303.6" cy="1098.2" rx="4.7" ry="4.5"/><ellipse cx="305.6" cy="1096.9" rx="4.7" ry="4.5"/><ellipse cx="307.6" cy="1095.1" rx="4.7" ry="4.5"/><ellipse cx="309.6" cy="1092.9" rx="4.7" ry="4.5"/><ellipse cx="311.6" cy="1090.2" rx="4.7" ry="4.5"/><ellipse cx="313.6" cy="1086.7" rx="4.7" ry="4.5"/><ellipse cx="315.6" cy="1082.4" rx="4.7" ry="4.5"/><ellipse cx="317.6" cy="1076.5" rx="4.7" ry="4.5"/><ellipse cx="319.7" cy="1067.6" rx="4.7" ry="4.5"/><ellipse cx="321.7" cy="1054.3" rx="4.7" ry="4.5"/><ellipse cx="323.8" cy="1041.1" rx="4.7" ry="4.5"/><ellipse cx="325.9" cy="1030.3" rx="4.7" ry="4.5"/><ellipse cx="327.9" cy="1013.9" rx="4.7" ry="4.5"/><ellipse cx="330" cy="993.2" rx="4.7" ry="4.5"/><ellipse cx="332.1" cy="970.6" rx="4.7" ry="4.5"/><ellipse cx="334.2" cy="941.7" rx="4.7" ry="4.5"/><ellipse cx="336.4" cy="924.5" rx="4.7" ry="4.5"/><ellipse cx="338.5" cy="900.3" rx="4.7" ry="4.5"/><ellipse cx="340.6" cy="871.6" rx="4.7" ry="4.5"/><ellipse cx="342.8" cy="852.4" rx="4.7" ry="4.5"/><ellipse cx="345" cy="822.6" rx="4.7" ry="4.5"/><ellipse cx="347.1" cy="802.8" rx="4.7" ry="4.5"/><ellipse cx="349.3" cy="779.8" rx="4.7" ry="4.5"/><ellipse cx="351.5" cy="767" rx="4.7" ry="4.5"/><ellipse cx="353.7" cy="756.1" rx="4.7" ry="4.5"/><ellipse cx="356" cy="745" rx="4.7" ry="4.5"/><ellipse cx="358.2" cy="735.2" rx="4.7" ry="4.5"/><ellipse cx="360.4" cy="727.6" rx="4.7" ry="4.5"/><ellipse cx="362.7" cy="722.6" rx="4.7" ry="4.5"/><ellipse cx="364.9" cy="719.4" rx="4.7" ry="4.5"/><ellipse cx="367.2" cy="717.1" rx="4.7" ry="4.5"/><ellipse cx="369.5" cy="715.5" rx="4.7" ry="4.5"/><ellipse cx="371.8" cy="714.3" rx="4.7" ry="4.5"/><ellipse cx="374.1" cy="713.4" rx="4.7" ry="4.5"/><ellipse cx="376.5" cy="712.7" rx="4.7" ry="4.5"/><ellipse cx="378.8" cy="712.4" rx="4.7" ry="4.5"/><ellipse cx="381.1" cy="712.2" rx="4.7" ry="4.5"/><ellipse cx="383.5" cy="712.3" rx="4.7" ry="4.5"/><ellipse cx="385.9" cy="712.6" rx="4.7" ry="4.5"/><ellipse cx="388.3" cy="713.2" rx="4.7" ry="4.5"/><ellipse cx="390.7" cy="713.9" rx="4.7" ry="4.5"/><ellipse cx="393.1" cy="715" rx="4.7" ry="4.5"/><ellipse cx="395.5" cy="716.3" rx="4.7" ry="4.5"/><ellipse cx="397.9" cy="718" rx="4.7" ry="4.5"/><ellipse cx="400.4" cy="720.1" rx="4.7" ry="4.5"/><ellipse cx="402.9" cy="722.5" rx="4.7" ry="4.5"/><ellipse cx="405.3" cy="725.3" rx="4.7" ry="4.5"/><ellipse cx="407.8" cy="728.4" rx="4.7" ry="4.5"/><ellipse cx="410.3" cy="731.7" rx="4.7" ry="4.5"/><ellipse cx="412.8" cy="735.5" rx="4.7" ry="4.5"/><ellipse cx="415.4" cy="739.7" rx="4.7" ry="4.5"/><ellipse cx="417.9" cy="744.6" rx="4.7" ry="4.5"/><ellipse cx="420.5" cy="750.4" rx="4.7" ry="4.5"/><ellipse cx="423" cy="757.1" rx="4.7" ry="4.5"/><ellipse cx="425.6" cy="764.3" rx="4.7" ry="4.5"/><ellipse cx="428.2" cy="771.6" rx="4.7" ry="4.5"/><ellipse cx="430.9" cy="778.5" rx="4.7" ry="4.5"/><ellipse cx="433.5" cy="785.3" rx="4.7" ry="4.5"/><ellipse cx="436.1" cy="792" rx="4.7" ry="4.5"/><ellipse cx="438.8" cy="798.8" rx="4.7" ry="4.5"/><ellipse cx="441.5" cy="805.8" rx="4.7" ry="4.5"/><ellipse cx="444.1" cy="813.1" rx="4.7" ry="4.5"/><ellipse cx="446.8" cy="820.2" rx="4.7" ry="4.5"/><ellipse cx="449.6" cy="826.9" rx="4.7" ry="4.5"/><ellipse cx="452.3" cy="833.1" rx="4.7" ry="4.5"/><ellipse cx="455.1" cy="838.8" rx="4.7" ry="4.5"/><ellipse cx="457.8" cy="844.2" rx="4.7" ry="4.5"/><ellipse cx="460.6" cy="849.5" rx="4.7" ry="4.5"/><ellipse cx="463.4" cy="854.9" rx="4.7" ry="4.5"/><ellipse cx="466.2" cy="860.2" rx="4.7" ry="4.5"/><ellipse cx="469" cy="865.8" rx="4.7" ry="4.5"/><ellipse cx="471.9" cy="871.7" rx="4.7" ry="4.5"/><ellipse cx="474.7" cy="877.6" rx="4.7" ry="4.5"/><ellipse cx="477.6" cy="883.4" rx="4.7" ry="4.5"/><ellipse cx="480.5" cy="889" rx="4.7" ry="4.5"/><ellipse cx="483.4" cy="894.3" rx="4.7" ry="4.5"/><ellipse cx="486.4" cy="899.6" rx="4.7" ry="4.5"/><ellipse cx="489.3" cy="904.8" rx="4.7" ry="4.5"/><ellipse cx="492.3" cy="909.9" rx="4.7" ry="4.5"/><ellipse cx="495.2" cy="915.2" rx="4.7" ry="4.5"/><ellipse cx="498.2" cy="920.5" rx="4.7" ry="4.5"/><ellipse cx="501.3" cy="925.8" rx="4.7" ry="4.5"/><ellipse cx="504.3" cy="930.8" rx="4.7" ry="4.5"/><ellipse cx="507.3" cy="935.3" rx="4.7" ry="4.5"/><ellipse cx="510.4" cy="939.5" rx="4.7" ry="4.5"/><ellipse cx="513.5" cy="943.4" rx="4.7" ry="4.5"/><ellipse cx="516.6" cy="947.1" rx="4.7" ry="4.5"/><ellipse cx="519.7" cy="950.8" rx="4.7" ry="4.5"/><ellipse cx="522.9" cy="954.5" rx="4.7" ry="4.5"/><ellipse cx="526" cy="958.3" rx="4.7" ry="4.5"/><ellipse cx="529.2" cy="962" rx="4.7" ry="4.5"/><ellipse cx="532.4" cy="965.6" rx="4.7" ry="4.5"/><ellipse cx="535.6" cy="968.8" rx="4.7" ry="4.5"/><ellipse cx="538.9" cy="971.7" rx="4.7" ry="4.5"/><ellipse cx="542.2" cy="974.2" rx="4.7" ry="4.5"/><ellipse cx="545.4" cy="976.6" rx="4.7" ry="4.5"/><ellipse cx="548.7" cy="978.9" rx="4.7" ry="4.5"/><ellipse cx="552.1" cy="981" rx="4.7" ry="4.5"/><ellipse cx="555.4" cy="982.9" rx="4.7" ry="4.5"/><ellipse cx="558.8" cy="984.8" rx="4.7" ry="4.5"/><ellipse cx="562.1" cy="986.7" rx="4.7" ry="4.5"/><ellipse cx="565.6" cy="988.4" rx="4.7" ry="4.5"/><ellipse cx="569" cy="990.1" rx="4.7" ry="4.5"/><ellipse cx="572.4" cy="991.8" rx="4.7" ry="4.5"/><ellipse cx="575.9" cy="993.5" rx="4.7" ry="4.5"/><ellipse cx="579.4" cy="995.2" rx="4.7" ry="4.5"/><ellipse cx="582.9" cy="996.9" rx="4.7" ry="4.5"/><ellipse cx="586.5" cy="998.5" rx="4.7" ry="4.5"/><ellipse cx="590" cy="1000.1" rx="4.7" ry="4.5"/><ellipse cx="593.6" cy="1001.5" rx="4.7" ry="4.5"/><ellipse cx="597.2" cy="1002.7" rx="4.7" ry="4.5"/><ellipse cx="600.8" cy="1003.7" rx="4.7" ry="4.5"/><ellipse cx="604.5" cy="1004.6" rx="4.7" ry="4.5"/><ellipse cx="608.2" cy="1005.4" rx="4.7" ry="4.5"/><ellipse cx="611.9" cy="1006" rx="4.7" ry="4.5"/><ellipse cx="615.6" cy="1006.5" rx="4.7" ry="4.5"/><ellipse cx="619.3" cy="1006.9" rx="4.7" ry="4.5"/><ellipse cx="623.1" cy="1007.2" rx="4.7" ry="4.5"/><ellipse cx="626.9" cy="1007.4" rx="4.7" ry="4.5"/><ellipse cx="630.8" cy="1007.6" rx="4.7" ry="4.5"/><ellipse cx="634.6" cy="1007.6" rx="4.7" ry="4.5"/><ellipse cx="638.5" cy="1007.7" rx="4.7" ry="4.5"/><ellipse cx="642.4" cy="1007.7" rx="4.7" ry="4.5"/><ellipse cx="646.3" cy="1007.7" rx="4.7" ry="4.5"/><ellipse cx="650.3" cy="1007.7" rx="4.7" ry="4.5"/><ellipse cx="654.3" cy="1007.7" rx="4.7" ry="4.5"/><ellipse cx="658.3" cy="1007.7" rx="4.7" ry="4.5"/><ellipse cx="662.3" cy="1007.7" rx="4.7" ry="4.5"/><ellipse cx="666.4" cy="1007.7" rx="4.7" ry="4.5"/><ellipse cx="670.5" cy="1007.7" rx="4.7" ry="4.5"/><ellipse cx="674.6" cy="1007.7" rx="4.7" ry="4.5"/><ellipse cx="678.7" cy="1007.7" rx="4.7" ry="4.5"/><ellipse cx="682.9" cy="1007.7" rx="4.7" ry="4.5"/></g>
<g fill="none" stroke="#2d4295" stroke-width="1.5"><rect x="390.4" y="1089.5" width="9.5" height="9.5"/><rect x="389.6" y="1088.3" width="9.5" height="9.5"/><rect x="392.6" y="1088.1" width="9.5" height="9.5"/><rect x="394.6" y="1087.8" width="9.5" height="9.5"/><rect x="392.8" y="1086.2" width="9.5" height="9.5"/><rect x="393.6" y="1085.4" width="9.5" height="9.5"/><rect x="390.2" y="1083" width="9.5" height="9.5"/><rect x="394.2" y="1083.5" width="9.5" height="9.5"/><rect x="398.5" y="1084.1" width="9.5" height="9.5"/><rect x="398.3" y="1082.9" width="9.5" height="9.5"/><rect x="397.6" y="1081.7" width="9.5" height="9.5"/><rect x="392.4" y="1078.2" width="9.5" height="9.5"/><rect x="399.9" y="1080.7" width="9.5" height="9.5"/><rect x="400" y="1079.7" width="9.5" height="9.5"/><rect x="394.3" y="1075.6" width="9.5" height="9.5"/><rect x="398.9" y="1077" width="9.5" height="9.5"/><rect x="394.3" y="1072.8" width="9.5" height="9.5"/><rect x="395.9" y="1072.3" width="9.5" height="9.5"/><rect x="398.2" y="1072.6" width="9.5" height="9.5"/><rect x="397.9" y="1070.6" width="9.5" height="9.5"/><rect x="402.7" y="1074.8" width="9.5" height="9.5"/><rect x="403.8" y="1074.9" width="9.5" height="9.5"/><rect x="401.7" y="1070.1" width="9.5" height="9.5"/><rect x="402.3" y="1069.2" width="9.5" height="9.5"/><rect x="401.2" y="1066.9" width="9.5" height="9.5"/><rect x="401.3" y="1066.2" width="9.5" height="9.5"/><rect x="407.7" y="1070.2" width="9.5" height="9.5"/><rect x="407.2" y="1068.5" width="9.5" height="9.5"/><rect x="402" y="1064.5" width="9.5" height="9.5"/><rect x="406.9" y="1066.1" width="9.5" height="9.5"/><rect x="406.5" y="1064.7" width="9.5" height="9.5"/><rect x="411.8" y="1066" width="9.5" height="9.5"/><rect x="410.8" y="1064.4" width="9.5" height="9.5"/><rect x="409.9" y="1063" width="9.5" height="9.5"/><rect x="409.7" y="1061.7" width="9.5" height="9.5"/><rect x="414.6" y="1062.3" width="9.5" height="9.5"/><rect x="415.4" y="1061.1" width="9.5" height="9.5"/><rect x="408.1" y="1058.1" width="9.5" height="9.5"/><rect x="407.2" y="1057" width="9.5" height="9.5"/><rect x="413.9" y="1057.5" width="9.5" height="9.5"/><rect x="405.5" y="1054.8" width="9.5" height="9.5"/><rect x="409.2" y="1054.5" width="9.5" height="9.5"/><rect x="405.9" y="1052.8" width="9.5" height="9.5"/><rect x="409.1" y="1052.3" width="9.5" height="9.5"/><rect x="406.3" y="1050.8" width="9.5" height="9.5"/><rect x="409.1" y="1050.3" width="9.5" height="9.5"/><rect x="415.2" y="1050.6" width="9.5" height="9.5"/><rect x="416.7" y="1050" width="9.5" height="9.5"/><rect x="415.7" y="1048.8" width="9.5" height="9.5"/><rect x="413.2" y="1047.2" width="9.5" height="9.5"/><rect x="414.1" y="1046.5" width="9.5" height="9.5"/><rect x="412" y="1044.1" width="9.5" height="9.5"/><rect x="411" y="1041.8" width="9.5" height="9.5"/><rect x="414.1" y="1043.2" width="9.5" height="9.5"/><rect x="417.2" y="1045.1" width="9.5" height="9.5"/><rect x="413.1" y="1038.2" width="9.5" height="9.5"/><rect x="414.2" y="1036.8" width="9.5" height="9.5"/><rect x="419" y="1044.5" width="9.5" height="9.5"/><rect x="418.7" y="1038.9" width="9.5" height="9.5"/><rect x="419.9" y="1043.7" width="9.5" height="9.5"/><rect x="420.9" y="1044.2" width="9.5" height="9.5"/><rect x="421.9" y="1046.7" width="9.5" height="9.5"/><rect x="422.9" y="1040" width="9.5" height="9.5"/><rect x="423.9" y="1039.4" width="9.5" height="9.5"/><rect x="424.9" y="1045.4" width="9.5" height="9.5"/><rect x="425.9" y="1044.9" width="9.5" height="9.5"/><rect x="426.9" y="1043.4" width="9.5" height="9.5"/><rect x="428.9" y="1045.3" width="9.5" height="9.5"/><rect x="429.7" y="1042.5" width="9.5" height="9.5"/><rect x="433.2" y="1045.2" width="9.5" height="9.5"/><rect x="429.1" y="1038" width="9.5" height="9.5"/><rect x="433.3" y="1041.3" width="9.5" height="9.5"/><rect x="435.7" y="1042.5" width="9.5" height="9.5"/><rect x="431.4" y="1036.1" width="9.5" height="9.5"/><rect x="434.3" y="1038.1" width="9.5" height="9.5"/><rect x="433.2" y="1035.3" width="9.5" height="9.5"/><rect x="434.7" y="1035.4" width="9.5" height="9.5"/><rect x="432.6" y="1031.9" width="9.5" height="9.5"/><rect x="433" y="1031" width="9.5" height="9.5"/><rect x="438.9" y="1035.3" width="9.5" height="9.5"/><rect x="437.5" y="1032.5" width="9.5" height="9.5"/><rect x="439.2" y="1032.8" width="9.5" height="9.5"/><rect x="440.6" y="1032.7" width="9.5" height="9.5"/><rect x="439.4" y="1030.2" width="9.5" height="9.5"/><rect x="439.9" y="1029.2" width="9.5" height="9.5"/><rect x="439.6" y="1027.6" width="9.5" height="9.5"/><rect x="443.4" y="1029.9" width="9.5" height="9.5"/><rect x="444.3" y="1029.2" width="9.5" height="9.5"/><rect x="444.4" y="1027.9" width="9.5" height="9.5"/><rect x="445.7" y="1027.3" width="9.5" height="9.5"/><rect x="445" y="1025.7" width="9.5" height="9.5"/><rect x="445.7" y="1024.7" width="9.5" height="9.5"/><rect x="443.1" y="1022.9" width="9.5" height="9.5"/><rect x="446.7" y="1022.7" width="9.5" height="9.5"/><rect x="444.4" y="1021.2" width="9.5" height="9.5"/><rect x="445.2" y="1020.2" width="9.5" height="9.5"/><rect x="444.7" y="1019.1" width="9.5" height="9.5"/><rect x="446.4" y="1018.4" width="9.5" height="9.5"/><rect x="447.1" y="1017.6" width="9.5" height="9.5"/><rect x="446.8" y="1016.5" width="9.5" height="9.5"/><rect x="445.5" y="1015.3" width="9.5" height="9.5"/><rect x="445.2" y="1014.1" width="9.5" height="9.5"/><rect x="449.1" y="1014.2" width="9.5" height="9.5"/><rect x="446.3" y="1012.3" width="9.5" height="9.5"/><rect x="447.5" y="1011.6" width="9.5" height="9.5"/><rect x="445.9" y="1009.9" width="9.5" height="9.5"/><rect x="447.6" y="1009.4" width="9.5" height="9.5"/><rect x="446.8" y="1007.9" width="9.5" height="9.5"/><rect x="448.7" y="1007.7" width="9.5" height="9.5"/><rect x="451.1" y="1007.9" width="9.5" height="9.5"/><rect x="452.9" y="1007.9" width="9.5" height="9.5"/><rect x="451.7" y="1006" width="9.5" height="9.5"/><rect x="450.5" y="1004" width="9.5" height="9.5"/><rect x="452.9" y="1004.5" width="9.5" height="9.5"/><rect x="453.4" y="1003.5" width="9.5" height="9.5"/><rect x="454.9" y="1003.4" width="9.5" height="9.5"/><rect x="454.1" y="1001.6" width="9.5" height="9.5"/><rect x="456.5" y="1002.3" width="9.5" height="9.5"/><rect x="454.9" y="999.6" width="9.5" height="9.5"/><rect x="455.1" y="998.4" width="9.5" height="9.5"/><rect x="456.8" y="998.7" width="9.5" height="9.5"/><rect x="454.5" y="998.8" width="9.5" height="9.5"/><rect x="456.5" y="996.2" width="9.5" height="9.5"/><rect x="456.1" y="992.8" width="9.5" height="9.5"/><rect x="457.4" y="989.8" width="9.5" height="9.5"/><rect x="456.8" y="986.5" width="9.5" height="9.5"/><rect x="459.6" y="983.7" width="9.5" height="9.5"/><rect x="460.2" y="980.4" width="9.5" height="9.5"/><rect x="458.8" y="976.9" width="9.5" height="9.5"/><rect x="461.5" y="974.2" width="9.5" height="9.5"/><rect x="460.2" y="970.8" width="9.5" height="9.5"/><rect x="461.1" y="967.8" width="9.5" height="9.5"/><rect x="462.5" y="964.6" width="9.5" height="9.5"/><rect x="463.9" y="961.6" width="9.5" height="9.5"/><rect x="464.3" y="958.4" width="9.5" height="9.5"/><rect x="462.9" y="954.9" width="9.5" height="9.5"/><rect x="464.7" y="952.1" width="9.5" height="9.5"/><rect x="465.4" y="948.8" width="9.5" height="9.5"/><rect x="465.8" y="945.7" width="9.5" height="9.5"/><rect x="467" y="942.8" width="9.5" height="9.5"/><rect x="466.1" y="939.3" width="9.5" height="9.5"/><rect x="468.1" y="936.5" width="9.5" height="9.5"/><rect x="467" y="932.9" width="9.5" height="9.5"/><rect x="467.8" y="929.7" width="9.5" height="9.5"/><rect x="468.4" y="926.6" width="9.5" height="9.5"/><rect x="469.4" y="923.8" width="9.5" height="9.5"/><rect x="470.9" y="920.8" width="9.5" height="9.5"/><rect x="471" y="917.4" width="9.5" height="9.5"/><rect x="472.5" y="914.4" width="9.5" height="9.5"/><rect x="471.9" y="911.2" width="9.5" height="9.5"/><rect x="473.7" y="908.2" width="9.5" height="9.5"/><rect x="474.4" y="905.1" width="9.5" height="9.5"/><rect x="474.3" y="901.9" width="9.5" height="9.5"/><rect x="475.4" y="898.8" width="9.5" height="9.5"/><rect x="478.2" y="896.5" width="9.5" height="9.5"/><rect x="478.7" y="893.1" width="9.5" height="9.5"/><rect x="480.4" y="890.3" width="9.5" height="9.5"/><rect x="480.7" y="886.9" width="9.5" height="9.5"/><rect x="481.6" y="883.9" width="9.5" height="9.5"/><rect x="481.2" y="880.5" width="9.5" height="9.5"/><rect x="482.3" y="877.5" width="9.5" height="9.5"/><rect x="483.2" y="874.5" width="9.5" height="9.5"/><rect x="486.1" y="872.2" width="9.5" height="9.5"/><rect x="485.1" y="868.3" width="9.5" height="9.5"/><rect x="489" y="866.8" width="9.5" height="9.5"/><rect x="489" y="863.1" width="9.5" height="9.5"/><rect x="491" y="860.5" width="9.5" height="9.5"/><rect x="493" y="858.1" width="9.5" height="9.5"/><rect x="493.7" y="855" width="9.5" height="9.5"/><rect x="494.8" y="851.9" width="9.5" height="9.5"/><rect x="493.5" y="848.4" width="9.5" height="9.5"/><rect x="494.5" y="845.2" width="9.5" height="9.5"/><rect x="498.5" y="843.1" width="9.5" height="9.5"/><rect x="499" y="839.8" width="9.5" height="9.5"/><rect x="496.9" y="835.9" width="9.5" height="9.5"/><rect x="499.2" y="833.3" width="9.5" height="9.5"/><rect x="499.9" y="830" width="9.5" height="9.5"/><rect x="500.1" y="826.7" width="9.5" height="9.5"/><rect x="503.6" y="824.5" width="9.5" height="9.5"/><rect x="503.9" y="821.3" width="9.5" height="9.5"/><rect x="502.6" y="817.7" width="9.5" height="9.5"/><rect x="506.2" y="815.2" width="9.5" height="9.5"/><rect x="508.1" y="812.4" width="9.5" height="9.5"/><rect x="504.6" y="808.4" width="9.5" height="9.5"/><rect x="506.1" y="805.5" width="9.5" height="9.5"/><rect x="509" y="802.9" width="9.5" height="9.5"/><rect x="509.2" y="799.6" width="9.5" height="9.5"/><rect x="510.4" y="796.6" width="9.5" height="9.5"/><rect x="511.4" y="793.6" width="9.5" height="9.5"/><rect x="515" y="791.8" width="9.5" height="9.5"/><rect x="514.9" y="788.3" width="9.5" height="9.5"/><rect x="516.4" y="785.3" width="9.5" height="9.5"/><rect x="516.9" y="782" width="9.5" height="9.5"/><rect x="518.5" y="779.2" width="9.5" height="9.5"/><rect x="522" y="777.2" width="9.5" height="9.5"/><rect x="519.5" y="772.7" width="9.5" height="9.5"/><rect x="524.7" y="771.4" width="9.5" height="9.5"/><rect x="520.9" y="766.5" width="9.5" height="9.5"/><rect x="524.8" y="764.5" width="9.5" height="9.5"/><rect x="522.6" y="760.5" width="9.5" height="9.5"/><rect x="527.1" y="758.4" width="9.5" height="9.5"/><rect x="527.7" y="755.3" width="9.5" height="9.5"/><rect x="529.8" y="752.5" width="9.5" height="9.5"/><rect x="531.1" y="749.5" width="9.5" height="9.5"/><rect x="528.6" y="745.5" width="9.5" height="9.5"/><rect x="531" y="742.9" width="9.5" height="9.5"/><rect x="533.7" y="740.5" width="9.5" height="9.5"/><rect x="532.6" y="736.8" width="9.5" height="9.5"/><rect x="535.5" y="738.1" width="9.5" height="9.5"/><rect x="529.6" y="734.9" width="9.5" height="9.5"/><rect x="536.9" y="735.9" width="9.5" height="9.5"/><rect x="539.1" y="735.4" width="9.5" height="9.5"/><rect x="539.6" y="734.4" width="9.5" height="9.5"/><rect x="533.8" y="730.8" width="9.5" height="9.5"/><rect x="536.2" y="730.5" width="9.5" height="9.5"/><rect x="538.5" y="731.1" width="9.5" height="9.5"/><rect x="537.2" y="730.1" width="9.5" height="9.5"/><rect x="538.6" y="731" width="9.5" height="9.5"/><rect x="538.1" y="720.8" width="9.5" height="9.5"/><rect x="540.2" y="724.4" width="9.5" height="9.5"/><rect x="541.4" y="720.4" width="9.5" height="9.5"/><rect x="543.1" y="732.9" width="9.5" height="9.5"/><rect x="545" y="725.4" width="9.5" height="9.5"/><rect x="544" y="730.7" width="9.5" height="9.5"/><rect x="549" y="725" width="9.5" height="9.5"/><rect x="549.2" y="726.9" width="9.5" height="9.5"/><rect x="552.4" y="721.2" width="9.5" height="9.5"/><rect x="550.3" y="727.4" width="9.5" height="9.5"/><rect x="558.7" y="735.5" width="9.5" height="9.5"/><rect x="546.5" y="725.5" width="9.5" height="9.5"/><rect x="548.8" y="725.5" width="9.5" height="9.5"/><rect x="561.8" y="730.4" width="9.5" height="9.5"/><rect x="543.7" y="719.6" width="9.5" height="9.5"/><rect x="545.8" y="717.1" width="9.5" height="9.5"/><rect x="555" y="726.6" width="9.5" height="9.5"/><rect x="550.2" y="730.2" width="9.5" height="9.5"/><rect x="566.3" y="718.5" width="9.5" height="9.5"/><rect x="553.6" y="728.9" width="9.5" height="9.5"/><rect x="553.3" y="730.4" width="9.5" height="9.5"/><rect x="566.2" y="723.8" width="9.5" height="9.5"/><rect x="558" y="731" width="9.5" height="9.5"/><rect x="561" y="730.3" width="9.5" height="9.5"/><rect x="562.4" y="730.4" width="9.5" height="9.5"/><rect x="560.7" y="738.3" width="9.5" height="9.5"/><rect x="567.3" y="723.5" width="9.5" height="9.5"/><rect x="566.9" y="727.7" width="9.5" height="9.5"/><rect x="566.8" y="735.9" width="9.5" height="9.5"/><rect x="568.5" y="729.1" width="9.5" height="9.5"/><rect x="569.8" y="728.2" width="9.5" height="9.5"/><rect x="571.1" y="735.8" width="9.5" height="9.5"/><rect x="572.4" y="739.8" width="9.5" height="9.5"/><rect x="573.7" y="727.7" width="9.5" height="9.5"/><rect x="575" y="731.5" width="9.5" height="9.5"/><rect x="575.6" y="727.9" width="9.5" height="9.5"/><rect x="577" y="729.9" width="9.5" height="9.5"/><rect x="579.5" y="733" width="9.5" height="9.5"/><rect x="581.9" y="734.9" width="9.5" height="9.5"/><rect x="578" y="724.1" width="9.5" height="9.5"/><rect x="584.5" y="731.5" width="9.5" height="9.5"/><rect x="583.6" y="728.9" width="9.5" height="9.5"/><rect x="578.2" y="724" width="9.5" height="9.5"/><rect x="578.2" y="722.4" width="9.5" height="9.5"/><rect x="581.2" y="722.5" width="9.5" height="9.5"/><rect x="580.9" y="719.6" width="9.5" height="9.5"/><rect x="589.9" y="731.1" width="9.5" height="9.5"/><rect x="586.2" y="726.5" width="9.5" height="9.5"/><rect x="592.8" y="721.2" width="9.5" height="9.5"/><rect x="588.8" y="726.1" width="9.5" height="9.5"/><rect x="589.7" y="727.1" width="9.5" height="9.5"/><rect x="597.5" y="723.6" width="9.5" height="9.5"/><rect x="587.2" y="732" width="9.5" height="9.5"/><rect x="593.9" y="728.7" width="9.5" height="9.5"/><rect x="597.3" y="726.3" width="9.5" height="9.5"/><rect x="597.5" y="727.4" width="9.5" height="9.5"/><rect x="595.9" y="732" width="9.5" height="9.5"/><rect x="595.2" y="735.5" width="9.5" height="9.5"/><rect x="594.1" y="739.4" width="9.5" height="9.5"/><rect x="595.8" y="738.5" width="9.5" height="9.5"/><rect x="600.1" y="735.1" width="9.5" height="9.5"/><rect x="605.6" y="732.7" width="9.5" height="9.5"/><rect x="596.3" y="740.4" width="9.5" height="9.5"/><rect x="604.2" y="737.3" width="9.5" height="9.5"/><rect x="606.9" y="737.4" width="9.5" height="9.5"/><rect x="597.9" y="743.5" width="9.5" height="9.5"/><rect x="609.6" y="738.7" width="9.5" height="9.5"/><rect x="608.8" y="740.5" width="9.5" height="9.5"/><rect x="604" y="745" width="9.5" height="9.5"/><rect x="605.6" y="745.9" width="9.5" height="9.5"/><rect x="609.1" y="754.2" width="9.5" height="9.5"/><rect x="608.2" y="743.9" width="9.5" height="9.5"/><rect x="605" y="738.9" width="9.5" height="9.5"/><rect x="613.9" y="746.2" width="9.5" height="9.5"/><rect x="608.3" y="738.1" width="9.5" height="9.5"/><rect x="611" y="736.3" width="9.5" height="9.5"/><rect x="614.5" y="740.7" width="9.5" height="9.5"/><rect x="616.9" y="741" width="9.5" height="9.5"/><rect x="608.7" y="747" width="9.5" height="9.5"/><rect x="621.2" y="742.5" width="9.5" height="9.5"/><rect x="611.3" y="748" width="9.5" height="9.5"/><rect x="614.4" y="748.2" width="9.5" height="9.5"/><rect x="623.3" y="746.3" width="9.5" height="9.5"/><rect x="624" y="747.4" width="9.5" height="9.5"/><rect x="611.3" y="753.5" width="9.5" height="9.5"/><rect x="623.3" y="750.4" width="9.5" height="9.5"/><rect x="625.4" y="750.6" width="9.5" height="9.5"/><rect x="623.1" y="753.2" width="9.5" height="9.5"/><rect x="618" y="756.5" width="9.5" height="9.5"/><rect x="620" y="757.2" width="9.5" height="9.5"/><rect x="618.3" y="759.1" width="9.5" height="9.5"/><rect x="615.1" y="761.5" width="9.5" height="9.5"/><rect x="624.9" y="759.6" width="9.5" height="9.5"/><rect x="625.8" y="760.7" width="9.5" height="9.5"/><rect x="618.1" y="764.5" width="9.5" height="9.5"/><rect x="626.6" y="763.1" width="9.5" height="9.5"/><rect x="621.1" y="766.4" width="9.5" height="9.5"/><rect x="628.1" y="765.3" width="9.5" height="9.5"/><rect x="627.8" y="766.7" width="9.5" height="9.5"/><rect x="629.7" y="767.2" width="9.5" height="9.5"/><rect x="622.6" y="771.7" width="9.5" height="9.5"/><rect x="629.3" y="770" width="9.5" height="9.5"/><rect x="630.4" y="770.8" width="9.5" height="9.5"/><rect x="629.8" y="772.4" width="9.5" height="9.5"/><rect x="629.9" y="773.8" width="9.5" height="9.5"/><rect x="632.8" y="773.5" width="9.5" height="9.5"/><rect x="631.3" y="775.9" width="9.5" height="9.5"/><rect x="628.2" y="779.2" width="9.5" height="9.5"/><rect x="628" y="780.8" width="9.5" height="9.5"/><rect x="633.4" y="779.4" width="9.5" height="9.5"/><rect x="630.5" y="782.4" width="9.5" height="9.5"/><rect x="628.1" y="784.5" width="9.5" height="9.5"/><rect x="632.1" y="784.5" width="9.5" height="9.5"/><rect x="634" y="785.2" width="9.5" height="9.5"/><rect x="637.8" y="785.2" width="9.5" height="9.5"/><rect x="630.6" y="789.2" width="9.5" height="9.5"/><rect x="631.4" y="790.5" width="9.5" height="9.5"/><rect x="637.2" y="786.6" width="9.5" height="9.5"/><rect x="636.2" y="786.4" width="9.5" height="9.5"/><rect x="637.5" y="794.9" width="9.5" height="9.5"/><rect x="638.8" y="791.3" width="9.5" height="9.5"/><rect x="640.1" y="787.6" width="9.5" height="9.5"/><rect x="637.1" y="785.7" width="9.5" height="9.5"/><rect x="637" y="785.4" width="9.5" height="9.5"/><rect x="643.4" y="787.9" width="9.5" height="9.5"/><rect x="645.7" y="787.6" width="9.5" height="9.5"/><rect x="452.3" y="998.9" width="9.5" height="9.5"/><rect x="453.3" y="997.8" width="9.5" height="9.5"/><rect x="456.1" y="997.4" width="9.5" height="9.5"/><rect x="451" y="1002" width="9.5" height="9.5"/><rect x="454.9" y="999.2" width="9.5" height="9.5"/><rect x="466.5" y="956.3" width="9.5" height="9.5"/><rect x="461.2" y="956.1" width="9.5" height="9.5"/><rect x="461.7" y="959.8" width="9.5" height="9.5"/><rect x="466" y="956.9" width="9.5" height="9.5"/><rect x="463.2" y="956.7" width="9.5" height="9.5"/><rect x="473.8" y="909.5" width="9.5" height="9.5"/><rect x="473.2" y="908.9" width="9.5" height="9.5"/><rect x="470.7" y="908.5" width="9.5" height="9.5"/><rect x="475.2" y="908.4" width="9.5" height="9.5"/><rect x="473" y="912.4" width="9.5" height="9.5"/><rect x="487.7" y="875.8" width="9.5" height="9.5"/><rect x="485" y="872.8" width="9.5" height="9.5"/><rect x="484" y="871.3" width="9.5" height="9.5"/><rect x="485.2" y="871.8" width="9.5" height="9.5"/><rect x="483.6" y="875.9" width="9.5" height="9.5"/><rect x="492.4" y="858.3" width="9.5" height="9.5"/><rect x="494.5" y="856.4" width="9.5" height="9.5"/><rect x="493.1" y="860.6" width="9.5" height="9.5"/><rect x="494.9" y="857.7" width="9.5" height="9.5"/><rect x="492.1" y="857.1" width="9.5" height="9.5"/><rect x="554.8" y="708.1" width="9.5" height="9.5"/><rect x="552.8" y="712.2" width="9.5" height="9.5"/><rect x="556.2" y="715.2" width="9.5" height="9.5"/><rect x="554.2" y="719.2" width="9.5" height="9.5"/><rect x="557.2" y="723.2" width="9.5" height="9.5"/><rect x="587" y="711.8" width="9.5" height="9.5"/><rect x="585" y="714.2" width="9.5" height="9.5"/><rect x="588.2" y="717.2" width="9.5" height="9.5"/><rect x="586.2" y="721.2" width="9.5" height="9.5"/><rect x="589.2" y="725.2" width="9.5" height="9.5"/><rect x="585.8" y="729.2" width="9.5" height="9.5"/><rect x="550.1" y="741.1" width="9.5" height="9.5"/><rect x="599.8" y="741.1" width="9.5" height="9.5"/><rect x="609" y="763.2" width="9.5" height="9.5"/><rect x="642" y="769.6" width="9.5" height="9.5"/><rect x="634.6" y="792.6" width="9.5" height="9.5"/><rect x="640.1" y="798.1" width="9.5" height="9.5"/><rect x="646.5" y="817.5" width="9.5" height="9.5"/></g>
<g font-family="Liberation Sans, sans-serif" fill="#000">
<text font-size="34.3" text-anchor="middle" textLength="290" lengthAdjust="spacingAndGlyphs" transform="translate(31.8 875.9) rotate(-90)">Intensity (arb. units)</text>
<text x="428.3" y="1197" font-size="34.3" text-anchor="middle">Photon Energy (eV)</text>
<text x="163.3" y="714" font-size="63" font-weight="bold" textLength="39.4" lengthAdjust="spacingAndGlyphs">b</text>
<text x="494" y="699.6" font-size="35">TPA</text>
<text x="170" y="1031.7" font-size="41.4" textLength="75" lengthAdjust="spacingAndGlyphs">Pt-3</text>
</g>
<g transform="translate(323 686.1) scale(0.9565 0.9693)"><path fill-rule="evenodd" d="M0 11.6a9.8 11.2 0 1 0 19.6 0a9.8 11.2 0 1 0 -19.6 0Z M5 11.8a6.2 9.4 0 1 0 12.4 0a6.2 9.4 0 1 0 -12.4 0Z"/><path fill="none" stroke="#000" stroke-width="3" d="M24.6 0.8C22.4 5.5 20.4 10.5 19.6 13.8C20.3 18.2 21.7 21.4 24 21.4C25.8 21.4 26.8 19.6 27.3 17.2"/></g>
</svg></body></html>
